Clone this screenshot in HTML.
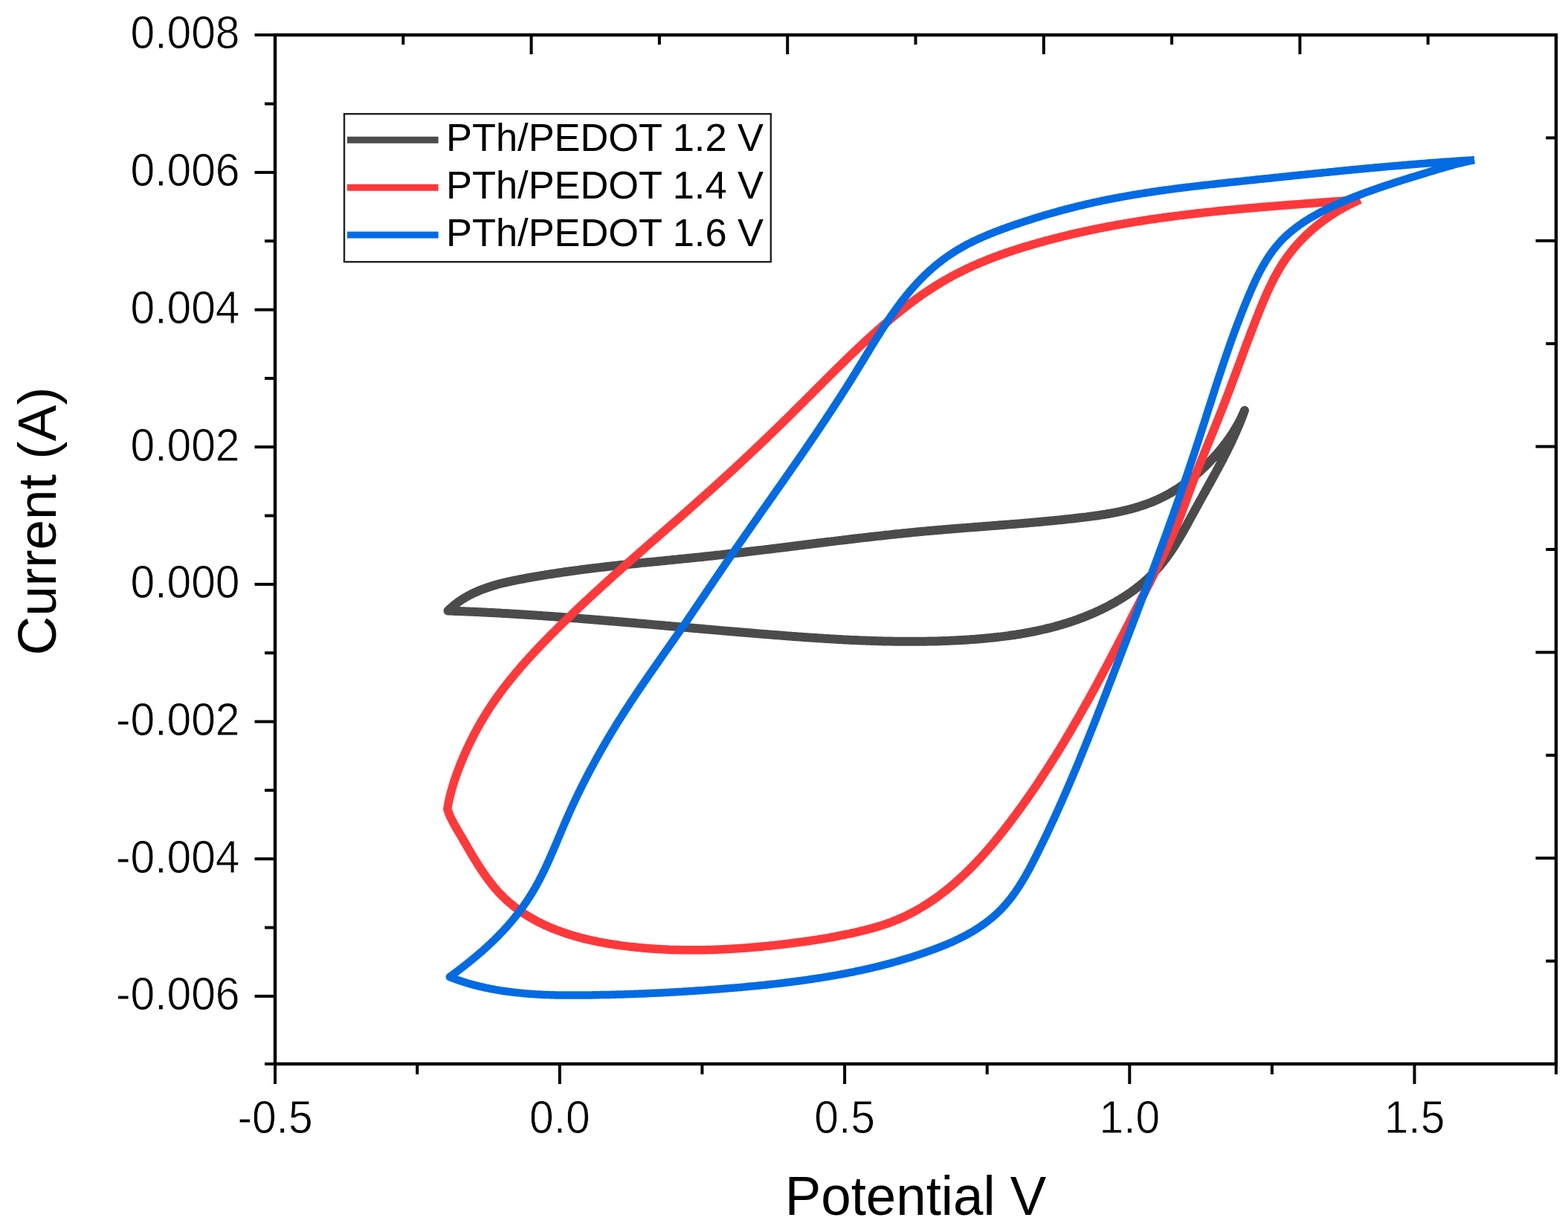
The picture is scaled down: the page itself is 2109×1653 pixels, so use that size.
<!DOCTYPE html>
<html><head><meta charset="utf-8"><title>Cyclic voltammetry</title>
<style>
html,body{margin:0;padding:0;background:#fff;}
body{width:2109px;height:1653px;overflow:hidden;}
svg{display:block;}
</style></head><body>
<svg width="2109" height="1653" viewBox="0 0 2109 1653"><rect x="0" y="0" width="2109" height="1653" fill="#fff"/><g fill="none" stroke-linejoin="round"><path d="M602.5,821.5L604.0,820.1L605.4,818.7L607.0,817.3L608.5,816.0L610.0,814.7L611.6,813.4L613.1,812.2L614.7,811.0L616.3,809.8L617.9,808.7L619.6,807.5L621.2,806.5L622.9,805.4L624.6,804.4L626.3,803.4L628.0,802.4L629.7,801.4L631.4,800.5L633.2,799.6L634.9,798.7L636.7,797.8L638.5,797.0L640.3,796.2L642.1,795.4L643.9,794.6L645.7,793.9L647.6,793.2L649.4,792.5L651.3,791.8L653.1,791.1L655.0,790.5L656.9,789.8L658.8,789.2L660.7,788.6L662.6,788.0L664.5,787.4L666.4,786.9L668.4,786.3L670.3,785.8L672.2,785.3L674.2,784.8L676.1,784.3L678.1,783.8L680.0,783.4L682.0,782.9L684.0,782.5L685.9,782.0L687.9,781.6L689.9,781.2L691.9,780.8L693.9,780.4L695.8,780.0L697.8,779.6L699.8,779.2L701.8,778.8L703.8,778.5L705.8,778.1L707.8,777.7L709.8,777.3L711.7,777.0L713.7,776.6L715.7,776.3L717.7,775.9L719.7,775.6L721.7,775.2L723.7,774.9L725.7,774.6L727.7,774.2L729.6,773.9L731.6,773.6L733.6,773.2L735.6,772.9L737.6,772.6L739.6,772.3L741.6,772.0L743.6,771.7L745.5,771.4L747.5,771.1L749.5,770.8L751.5,770.5L753.5,770.2L755.5,769.9L757.5,769.6L759.5,769.3L761.5,769.0L763.4,768.8L765.4,768.5L767.4,768.2L769.4,767.9L771.4,767.7L773.4,767.4L775.4,767.1L777.4,766.9L779.4,766.6L781.3,766.3L783.3,766.1L785.3,765.8L787.3,765.6L789.3,765.3L791.3,765.1L793.3,764.8L795.3,764.6L797.3,764.3L799.2,764.1L801.2,763.9L803.2,763.6L805.2,763.4L807.2,763.1L809.2,762.9L811.2,762.7L813.2,762.5L815.2,762.2L817.1,762.0L819.1,761.8L821.1,761.6L823.1,761.3L825.1,761.1L827.1,760.9L829.1,760.7L831.1,760.5L833.1,760.2L835.0,760.0L837.0,759.8L839.0,759.6L841.0,759.4L843.0,759.2L845.0,759.0L847.0,758.8L849.0,758.6L851.0,758.4L853.0,758.2L854.9,758.0L856.9,757.8L858.9,757.5L860.9,757.3L862.9,757.1L864.9,756.9L866.9,756.7L868.9,756.5L870.9,756.3L872.9,756.1L874.8,755.9L876.8,755.8L878.8,755.6L880.8,755.4L882.8,755.2L884.8,755.0L886.8,754.8L888.8,754.6L890.8,754.4L892.7,754.2L894.7,754.0L896.7,753.8L898.7,753.6L900.7,753.4L902.7,753.2L904.7,753.0L906.7,752.8L908.7,752.6L910.7,752.4L912.7,752.2L914.6,752.0L916.6,751.8L918.6,751.6L920.6,751.4L922.6,751.2L924.6,751.0L926.6,750.8L928.6,750.6L930.6,750.4L932.6,750.2L934.5,750.0L936.5,749.8L938.5,749.6L940.5,749.4L942.5,749.2L944.5,749.0L946.5,748.7L948.5,748.5L950.5,748.3L952.5,748.1L954.5,747.9L956.4,747.7L958.4,747.5L960.4,747.3L962.4,747.0L964.4,746.8L966.4,746.6L968.4,746.4L970.4,746.2L972.4,745.9L974.4,745.7L976.4,745.5L978.3,745.3L980.3,745.0L982.3,744.8L984.3,744.6L986.3,744.3L988.3,744.1L990.3,743.9L992.3,743.7L994.3,743.4L996.3,743.2L998.3,743.0L1000.3,742.7L1002.2,742.5L1004.2,742.2L1006.2,742.0L1008.2,741.8L1010.2,741.5L1012.2,741.3L1014.2,741.1L1016.2,740.8L1018.2,740.6L1020.2,740.3L1022.2,740.1L1024.2,739.9L1026.2,739.6L1028.1,739.4L1030.1,739.1L1032.1,738.9L1034.1,738.7L1036.1,738.4L1038.1,738.2L1040.1,737.9L1042.1,737.7L1044.1,737.4L1046.1,737.2L1048.1,736.9L1050.1,736.7L1052.0,736.5L1054.0,736.2L1056.0,736.0L1058.0,735.7L1060.0,735.5L1062.0,735.2L1064.0,735.0L1066.0,734.7L1068.0,734.5L1070.0,734.2L1072.0,734.0L1074.0,733.7L1076.0,733.5L1078.0,733.3L1079.9,733.0L1081.9,732.8L1083.9,732.5L1085.9,732.3L1087.9,732.0L1089.9,731.8L1091.9,731.5L1093.9,731.3L1095.9,731.0L1097.9,730.8L1099.9,730.5L1101.9,730.3L1103.9,730.1L1105.8,729.8L1107.8,729.6L1109.8,729.3L1111.8,729.1L1113.8,728.8L1115.8,728.6L1117.8,728.4L1119.8,728.1L1121.8,727.9L1123.8,727.6L1125.8,727.4L1127.8,727.1L1129.8,726.9L1131.8,726.7L1133.7,726.4L1135.7,726.2L1137.7,726.0L1139.7,725.7L1141.7,725.5L1143.7,725.2L1145.7,725.0L1147.7,724.8L1149.7,724.5L1151.7,724.3L1153.7,724.1L1155.7,723.8L1157.7,723.6L1159.7,723.4L1161.7,723.1L1163.6,722.9L1165.6,722.7L1167.6,722.5L1169.6,722.2L1171.6,722.0L1173.6,721.8L1175.6,721.6L1177.6,721.3L1179.6,721.1L1181.6,720.9L1183.6,720.7L1185.6,720.5L1187.6,720.2L1189.6,720.0L1191.5,719.8L1193.5,719.6L1195.5,719.4L1197.5,719.2L1199.5,718.9L1201.5,718.7L1203.5,718.5L1205.5,718.3L1207.5,718.1L1209.5,717.9L1211.5,717.7L1213.5,717.5L1215.5,717.3L1217.5,717.1L1219.5,716.9L1221.4,716.7L1223.4,716.5L1225.4,716.3L1227.4,716.1L1229.4,715.9L1231.4,715.7L1233.4,715.5L1235.4,715.3L1237.4,715.1L1239.4,715.0L1241.4,714.8L1243.4,714.6L1245.4,714.4L1247.4,714.2L1249.3,714.0L1251.3,713.9L1253.3,713.7L1255.3,713.5L1257.3,713.3L1259.3,713.2L1261.3,713.0L1263.3,712.8L1265.3,712.7L1267.3,712.5L1269.3,712.3L1271.3,712.1L1273.3,712.0L1275.3,711.8L1277.3,711.7L1279.2,711.5L1281.2,711.3L1283.2,711.2L1285.2,711.0L1287.2,710.8L1289.2,710.7L1291.2,710.5L1293.2,710.4L1295.2,710.2L1297.2,710.1L1299.2,709.9L1301.2,709.7L1303.2,709.6L1305.2,709.4L1307.2,709.3L1309.1,709.1L1311.1,709.0L1313.1,708.8L1315.1,708.7L1317.1,708.5L1319.1,708.4L1321.1,708.2L1323.1,708.0L1325.1,707.9L1327.1,707.7L1329.1,707.6L1331.1,707.4L1333.1,707.3L1335.1,707.1L1337.1,707.0L1339.1,706.8L1341.1,706.7L1343.1,706.5L1345.1,706.3L1347.0,706.2L1349.0,706.0L1351.0,705.9L1353.0,705.7L1355.0,705.6L1357.0,705.4L1359.0,705.2L1361.0,705.1L1363.0,704.9L1365.0,704.8L1367.0,704.6L1369.0,704.4L1371.0,704.3L1373.0,704.1L1375.0,703.9L1377.0,703.8L1379.0,703.6L1381.0,703.4L1383.0,703.3L1385.0,703.1L1387.0,702.9L1389.0,702.7L1391.0,702.6L1393.0,702.4L1395.0,702.2L1397.0,702.0L1399.0,701.9L1401.0,701.7L1403.0,701.5L1405.0,701.3L1407.0,701.1L1409.0,700.9L1411.0,700.7L1413.0,700.5L1415.0,700.4L1417.0,700.2L1419.0,700.0L1421.0,699.8L1423.0,699.6L1425.0,699.4L1427.0,699.2L1429.0,699.0L1431.0,698.7L1433.0,698.5L1435.0,698.3L1437.0,698.1L1439.0,697.9L1441.0,697.7L1443.0,697.5L1445.0,697.2L1447.0,697.0L1449.0,696.8L1451.0,696.5L1453.0,696.3L1455.0,696.1L1457.0,695.8L1459.0,695.6L1461.0,695.4L1463.0,695.1L1465.0,694.8L1467.0,694.6L1469.0,694.3L1471.0,694.1L1473.0,693.8L1475.0,693.5L1477.0,693.2L1479.0,692.9L1481.0,692.6L1483.0,692.3L1484.9,692.0L1486.9,691.7L1488.9,691.3L1490.9,691.0L1492.9,690.7L1494.8,690.3L1496.8,689.9L1498.8,689.6L1500.7,689.2L1502.7,688.8L1504.7,688.4L1506.6,688.0L1508.6,687.5L1510.5,687.1L1512.5,686.7L1514.4,686.2L1516.3,685.7L1518.3,685.2L1520.2,684.8L1522.1,684.2L1524.0,683.7L1525.9,683.2L1527.8,682.6L1529.7,682.1L1531.6,681.5L1533.5,680.9L1535.4,680.3L1537.3,679.7L1539.2,679.0L1541.0,678.4L1542.9,677.7L1544.7,677.0L1546.6,676.3L1548.4,675.6L1550.3,674.8L1552.1,674.1L1553.9,673.3L1555.7,672.5L1557.5,671.7L1559.3,670.8L1561.1,670.0L1562.9,669.1L1564.7,668.2L1566.5,667.3L1568.2,666.4L1570.0,665.4L1571.7,664.5L1573.5,663.5L1575.2,662.5L1576.9,661.5L1578.6,660.4L1580.3,659.4L1582.0,658.3L1583.7,657.3L1585.4,656.2L1587.0,655.0L1588.7,653.9L1590.4,652.8L1592.0,651.6L1593.6,650.4L1595.2,649.2L1596.9,648.0L1598.5,646.8L1600.1,645.6L1601.6,644.3L1603.2,643.1L1604.8,641.8L1606.3,640.5L1607.9,639.2L1609.4,637.9L1610.9,636.5L1612.5,635.2L1614.0,633.9L1615.5,632.5L1616.9,631.1L1618.4,629.7L1619.9,628.3L1621.3,626.9L1622.8,625.5L1624.2,624.1L1625.6,622.6L1627.0,621.2L1628.4,619.7L1629.8,618.2L1631.2,616.7L1632.5,615.2L1633.9,613.7L1635.2,612.2L1636.6,610.7L1637.9,609.2L1639.2,607.6L1640.5,606.1L1641.8,604.5L1643.0,603.0L1644.3,601.4L1645.5,599.8L1646.7,598.2L1648.0,596.6L1649.2,595.0L1650.4,593.4L1651.5,591.8L1652.7,590.2L1653.8,588.5L1655.0,586.9L1656.1,585.2L1657.2,583.6L1658.3,581.9L1659.3,580.2L1660.4,578.5L1661.4,576.8L1662.4,575.1L1663.4,573.4L1664.4,571.7L1665.4,569.9L1666.3,568.2L1667.3,566.4L1668.2,564.7L1669.1,562.9L1669.9,561.1L1670.8,559.3L1671.6,557.5L1672.4,555.7L1673.2,553.8L1674.0,552.0L1673.3,553.9L1672.6,555.8L1671.9,557.7L1671.2,559.5L1670.5,561.4L1669.8,563.3L1669.0,565.2L1668.3,567.0L1667.5,568.9L1666.8,570.7L1666.0,572.6L1665.2,574.4L1664.4,576.3L1663.6,578.1L1662.8,579.9L1662.0,581.8L1661.2,583.6L1660.4,585.4L1659.6,587.2L1658.7,589.0L1657.9,590.8L1657.0,592.7L1656.2,594.5L1655.3,596.3L1654.5,598.1L1653.6,599.9L1652.7,601.7L1651.8,603.4L1650.9,605.2L1650.1,607.0L1649.2,608.8L1648.3,610.6L1647.3,612.4L1646.4,614.1L1645.5,615.9L1644.6,617.7L1643.7,619.5L1642.7,621.2L1641.8,623.0L1640.9,624.8L1639.9,626.5L1639.0,628.3L1638.0,630.1L1637.1,631.8L1636.1,633.6L1635.2,635.3L1634.2,637.1L1633.3,638.9L1632.3,640.6L1631.4,642.4L1630.4,644.1L1629.4,645.9L1628.5,647.6L1627.5,649.4L1626.5,651.1L1625.5,652.9L1624.6,654.6L1623.6,656.4L1622.6,658.1L1621.6,659.9L1620.7,661.7L1619.7,663.4L1618.7,665.2L1617.7,666.9L1616.8,668.7L1615.8,670.4L1614.8,672.2L1613.8,673.9L1612.9,675.7L1611.9,677.5L1610.9,679.2L1610.0,681.0L1609.0,682.7L1608.0,684.5L1607.1,686.3L1606.1,688.0L1605.1,689.8L1604.2,691.6L1603.2,693.4L1602.2,695.1L1601.3,696.9L1600.3,698.7L1599.3,700.4L1598.4,702.2L1597.4,704.0L1596.4,705.7L1595.5,707.5L1594.5,709.2L1593.5,711.0L1592.5,712.7L1591.5,714.5L1590.5,716.2L1589.5,718.0L1588.5,719.7L1587.5,721.4L1586.5,723.1L1585.5,724.9L1584.4,726.6L1583.4,728.3L1582.3,730.0L1581.3,731.7L1580.2,733.4L1579.2,735.0L1578.1,736.7L1577.0,738.4L1575.9,740.0L1574.8,741.7L1573.7,743.3L1572.5,744.9L1571.4,746.6L1570.2,748.2L1569.1,749.8L1567.9,751.4L1566.7,752.9L1565.5,754.5L1564.3,756.1L1563.0,757.6L1561.8,759.1L1560.5,760.7L1559.2,762.2L1558.0,763.7L1556.6,765.2L1555.3,766.6L1554.0,768.1L1552.6,769.5L1551.3,770.9L1549.9,772.4L1548.5,773.8L1547.0,775.1L1545.6,776.5L1544.2,777.9L1542.7,779.2L1541.2,780.6L1539.7,781.9L1538.2,783.2L1536.7,784.5L1535.2,785.8L1533.6,787.0L1532.1,788.3L1530.5,789.5L1528.9,790.8L1527.3,792.0L1525.7,793.2L1524.1,794.4L1522.5,795.5L1520.9,796.7L1519.2,797.8L1517.6,799.0L1515.9,800.1L1514.2,801.2L1512.5,802.3L1510.8,803.4L1509.1,804.5L1507.4,805.5L1505.7,806.6L1504.0,807.6L1502.2,808.6L1500.5,809.7L1498.7,810.7L1497.0,811.6L1495.2,812.6L1493.4,813.6L1491.7,814.5L1489.9,815.5L1488.1,816.4L1486.3,817.3L1484.5,818.2L1482.7,819.1L1480.9,820.0L1479.1,820.8L1477.2,821.7L1475.4,822.5L1473.6,823.3L1471.8,824.2L1469.9,825.0L1468.1,825.8L1466.2,826.5L1464.4,827.3L1462.5,828.1L1460.7,828.8L1458.8,829.6L1457.0,830.3L1455.1,831.0L1453.2,831.7L1451.4,832.4L1449.5,833.1L1447.6,833.8L1445.7,834.4L1443.8,835.1L1441.9,835.7L1440.0,836.3L1438.1,837.0L1436.2,837.6L1434.3,838.2L1432.4,838.8L1430.5,839.4L1428.6,839.9L1426.7,840.5L1424.8,841.0L1422.9,841.6L1420.9,842.1L1419.0,842.6L1417.1,843.2L1415.1,843.7L1413.2,844.2L1411.3,844.7L1409.3,845.1L1407.4,845.6L1405.4,846.1L1403.5,846.5L1401.5,847.0L1399.6,847.4L1397.6,847.8L1395.7,848.3L1393.7,848.7L1391.8,849.1L1389.8,849.5L1387.8,849.9L1385.9,850.2L1383.9,850.6L1381.9,851.0L1380.0,851.3L1378.0,851.7L1376.0,852.0L1374.0,852.4L1372.1,852.7L1370.1,853.0L1368.1,853.3L1366.1,853.7L1364.1,854.0L1362.1,854.2L1360.1,854.5L1358.2,854.8L1356.2,855.1L1354.2,855.4L1352.2,855.6L1350.2,855.9L1348.2,856.1L1346.2,856.4L1344.2,856.6L1342.2,856.8L1340.2,857.1L1338.2,857.3L1336.2,857.5L1334.2,857.7L1332.2,857.9L1330.2,858.1L1328.2,858.3L1326.2,858.5L1324.2,858.7L1322.2,858.9L1320.2,859.0L1318.2,859.2L1316.2,859.4L1314.2,859.5L1312.1,859.7L1310.1,859.9L1308.1,860.0L1306.1,860.1L1304.1,860.3L1302.1,860.4L1300.1,860.5L1298.1,860.7L1296.1,860.8L1294.1,860.9L1292.1,861.0L1290.1,861.1L1288.1,861.2L1286.1,861.3L1284.1,861.4L1282.1,861.5L1280.1,861.6L1278.0,861.7L1276.0,861.8L1274.0,861.9L1272.0,862.0L1270.0,862.0L1268.0,862.1L1266.0,862.2L1264.0,862.2L1262.0,862.3L1260.0,862.4L1258.0,862.4L1256.0,862.5L1254.0,862.5L1252.0,862.6L1250.0,862.6L1248.0,862.6L1246.0,862.7L1244.0,862.7L1242.0,862.7L1240.0,862.8L1238.0,862.8L1236.0,862.8L1234.0,862.8L1232.0,862.8L1230.0,862.8L1228.0,862.8L1226.0,862.8L1223.9,862.8L1221.9,862.8L1219.9,862.8L1217.9,862.8L1215.9,862.8L1213.9,862.8L1211.9,862.8L1209.9,862.8L1207.9,862.7L1205.9,862.7L1203.9,862.7L1201.9,862.7L1199.9,862.6L1197.9,862.6L1195.9,862.6L1193.9,862.5L1191.9,862.5L1189.9,862.4L1187.9,862.4L1185.9,862.3L1183.9,862.3L1181.9,862.2L1179.9,862.2L1177.9,862.1L1175.9,862.0L1173.9,862.0L1171.9,861.9L1169.9,861.8L1167.9,861.8L1165.9,861.7L1163.9,861.6L1161.9,861.5L1159.9,861.5L1157.9,861.4L1155.9,861.3L1153.9,861.2L1151.9,861.1L1149.9,861.0L1147.9,860.9L1145.9,860.9L1143.9,860.8L1141.9,860.7L1139.9,860.6L1137.9,860.5L1135.9,860.4L1133.9,860.3L1131.9,860.1L1129.9,860.0L1127.9,859.9L1125.9,859.8L1123.9,859.7L1121.9,859.6L1119.9,859.5L1118.0,859.4L1116.0,859.2L1114.0,859.1L1112.0,859.0L1110.0,858.9L1108.0,858.7L1106.0,858.6L1104.0,858.5L1102.0,858.4L1100.0,858.2L1098.0,858.1L1096.0,858.0L1094.0,857.8L1092.0,857.7L1090.0,857.6L1088.0,857.4L1086.0,857.3L1084.0,857.2L1082.0,857.0L1080.0,856.9L1078.0,856.7L1076.0,856.6L1074.0,856.4L1072.0,856.3L1070.0,856.2L1068.0,856.0L1066.0,855.9L1064.0,855.7L1062.0,855.6L1060.0,855.4L1058.0,855.3L1056.0,855.1L1054.0,855.0L1052.0,854.8L1050.0,854.6L1048.0,854.5L1046.0,854.3L1044.0,854.2L1042.0,854.0L1040.1,853.9L1038.1,853.7L1036.1,853.6L1034.1,853.4L1032.1,853.2L1030.1,853.1L1028.1,852.9L1026.1,852.8L1024.1,852.6L1022.1,852.4L1020.1,852.3L1018.1,852.1L1016.1,851.9L1014.1,851.8L1012.1,851.6L1010.1,851.5L1008.1,851.3L1006.1,851.1L1004.1,851.0L1002.1,850.8L1000.1,850.6L998.1,850.5L996.1,850.3L994.1,850.1L992.1,850.0L990.1,849.8L988.1,849.6L986.1,849.5L984.1,849.3L982.1,849.1L980.2,848.9L978.2,848.8L976.2,848.6L974.2,848.4L972.2,848.3L970.2,848.1L968.2,847.9L966.2,847.7L964.2,847.6L962.2,847.4L960.2,847.2L958.2,847.1L956.2,846.9L954.2,846.7L952.2,846.5L950.2,846.4L948.2,846.2L946.2,846.0L944.2,845.8L942.2,845.7L940.2,845.5L938.2,845.3L936.2,845.2L934.2,845.0L932.2,844.8L930.2,844.6L928.2,844.5L926.2,844.3L924.3,844.1L922.3,843.9L920.3,843.8L918.3,843.6L916.3,843.4L914.3,843.2L912.3,843.1L910.3,842.9L908.3,842.7L906.3,842.5L904.3,842.4L902.3,842.2L900.3,842.0L898.3,841.8L896.3,841.7L894.3,841.5L892.3,841.3L890.3,841.1L888.3,841.0L886.3,840.8L884.3,840.6L882.3,840.4L880.3,840.3L878.3,840.1L876.3,839.9L874.3,839.7L872.3,839.6L870.3,839.4L868.4,839.2L866.4,839.0L864.4,838.9L862.4,838.7L860.4,838.5L858.4,838.4L856.4,838.2L854.4,838.0L852.4,837.8L850.4,837.7L848.4,837.5L846.4,837.3L844.4,837.2L842.4,837.0L840.4,836.8L838.4,836.7L836.4,836.5L834.4,836.3L832.4,836.2L830.4,836.0L828.4,835.8L826.4,835.7L824.4,835.5L822.4,835.3L820.4,835.2L818.4,835.0L816.4,834.8L814.4,834.7L812.4,834.5L810.4,834.3L808.4,834.2L806.4,834.0L804.4,833.8L802.5,833.7L800.5,833.5L798.5,833.4L796.5,833.2L794.5,833.0L792.5,832.9L790.5,832.7L788.5,832.6L786.5,832.4L784.5,832.3L782.5,832.1L780.5,831.9L778.5,831.8L776.5,831.6L774.5,831.5L772.5,831.3L770.5,831.2L768.5,831.0L766.5,830.9L764.5,830.7L762.5,830.6L760.5,830.4L758.5,830.3L756.5,830.1L754.5,830.0L752.5,829.8L750.5,829.7L748.5,829.5L746.5,829.4L744.5,829.2L742.5,829.1L740.5,829.0L738.5,828.8L736.5,828.7L734.5,828.5L732.5,828.4L730.5,828.3L728.5,828.1L726.5,828.0L724.5,827.9L722.5,827.7L720.5,827.6L718.5,827.5L716.5,827.3L714.5,827.2L712.5,827.1L710.5,826.9L708.5,826.8L706.5,826.7L704.5,826.5L702.5,826.4L700.5,826.3L698.5,826.2L696.5,826.0L694.5,825.9L692.5,825.8L690.5,825.7L688.5,825.6L686.5,825.4L684.5,825.3L682.5,825.2L680.5,825.1L678.5,825.0L676.5,824.9L674.5,824.8L672.5,824.6L670.5,824.5L668.5,824.4L666.5,824.3L664.5,824.2L662.5,824.1L660.5,824.0L658.5,823.9L656.5,823.8L654.5,823.7L652.5,823.6L650.5,823.5L648.5,823.4L646.5,823.3L644.5,823.2L642.5,823.1L640.5,823.0L638.5,822.9L636.5,822.8L634.5,822.8L632.5,822.7L630.5,822.6L628.5,822.5L626.5,822.4L624.5,822.3L622.5,822.2L620.5,822.2L618.5,822.1L616.5,822.0L614.5,821.9L612.5,821.9L610.5,821.8L608.5,821.7L606.5,821.6L604.5,821.6L602.5,821.5" stroke="#4b4b4b" stroke-width="12" stroke-linecap="round"/><path d="M1829.5,268.5L1827.5,268.6L1825.5,268.8L1823.5,268.9L1821.5,269.1L1819.5,269.2L1817.6,269.4L1815.6,269.5L1813.6,269.7L1811.6,269.8L1809.6,270.0L1807.6,270.1L1805.6,270.3L1803.6,270.4L1801.6,270.6L1799.6,270.7L1797.6,270.9L1795.6,271.0L1793.6,271.2L1791.6,271.3L1789.6,271.5L1787.7,271.6L1785.7,271.7L1783.7,271.9L1781.7,272.0L1779.7,272.2L1777.7,272.3L1775.7,272.5L1773.7,272.6L1771.7,272.8L1769.7,272.9L1767.7,273.1L1765.7,273.2L1763.7,273.4L1761.7,273.5L1759.7,273.7L1757.7,273.8L1755.7,274.0L1753.7,274.1L1751.7,274.3L1749.7,274.4L1747.7,274.6L1745.7,274.7L1743.7,274.9L1741.7,275.0L1739.7,275.2L1737.7,275.3L1735.7,275.5L1733.7,275.6L1731.7,275.8L1729.7,275.9L1727.7,276.1L1725.7,276.2L1723.7,276.4L1721.7,276.6L1719.8,276.7L1717.8,276.9L1715.8,277.0L1713.8,277.2L1711.8,277.4L1709.8,277.5L1707.8,277.7L1705.8,277.8L1703.8,278.0L1701.8,278.2L1699.8,278.3L1697.8,278.5L1695.8,278.7L1693.8,278.8L1691.8,279.0L1689.8,279.2L1687.8,279.4L1685.8,279.5L1683.8,279.7L1681.8,279.9L1679.8,280.0L1677.8,280.2L1675.8,280.4L1673.8,280.6L1671.8,280.8L1669.8,280.9L1667.8,281.1L1665.8,281.3L1663.8,281.5L1661.8,281.7L1659.8,281.9L1657.8,282.1L1655.8,282.2L1653.8,282.4L1651.8,282.6L1649.8,282.8L1647.8,283.0L1645.8,283.2L1643.9,283.4L1641.9,283.6L1639.9,283.8L1637.9,284.0L1635.9,284.2L1633.9,284.4L1631.9,284.6L1629.9,284.9L1627.9,285.1L1625.9,285.3L1623.9,285.5L1621.9,285.7L1619.9,285.9L1617.9,286.1L1615.9,286.4L1613.9,286.6L1612.0,286.8L1610.0,287.0L1608.0,287.3L1606.0,287.5L1604.0,287.7L1602.0,288.0L1600.0,288.2L1598.0,288.4L1596.0,288.7L1594.0,288.9L1592.1,289.2L1590.1,289.4L1588.1,289.6L1586.1,289.9L1584.1,290.1L1582.1,290.4L1580.1,290.7L1578.1,290.9L1576.2,291.2L1574.2,291.4L1572.2,291.7L1570.2,292.0L1568.2,292.2L1566.2,292.5L1564.2,292.8L1562.3,293.1L1560.3,293.3L1558.3,293.6L1556.3,293.9L1554.3,294.2L1552.4,294.5L1550.4,294.8L1548.4,295.0L1546.4,295.3L1544.4,295.6L1542.5,295.9L1540.5,296.2L1538.5,296.5L1536.5,296.8L1534.5,297.2L1532.6,297.5L1530.6,297.8L1528.6,298.1L1526.6,298.4L1524.7,298.7L1522.7,299.1L1520.7,299.4L1518.7,299.7L1516.8,300.1L1514.8,300.4L1512.8,300.7L1510.8,301.1L1508.9,301.4L1506.9,301.8L1504.9,302.1L1503.0,302.5L1501.0,302.8L1499.0,303.2L1497.1,303.5L1495.1,303.9L1493.1,304.3L1491.2,304.6L1489.2,305.0L1487.2,305.4L1485.3,305.8L1483.3,306.2L1481.3,306.5L1479.4,306.9L1477.4,307.3L1475.5,307.7L1473.5,308.1L1471.5,308.5L1469.6,308.9L1467.6,309.3L1465.7,309.7L1463.7,310.2L1461.7,310.6L1459.8,311.0L1457.8,311.4L1455.9,311.9L1453.9,312.3L1452.0,312.7L1450.0,313.2L1448.1,313.6L1446.1,314.0L1444.2,314.5L1442.2,314.9L1440.3,315.4L1438.3,315.9L1436.4,316.3L1434.4,316.8L1432.5,317.3L1430.5,317.7L1428.6,318.2L1426.6,318.7L1424.7,319.2L1422.8,319.7L1420.8,320.2L1418.9,320.7L1416.9,321.2L1415.0,321.7L1413.0,322.2L1411.1,322.7L1409.2,323.2L1407.2,323.7L1405.3,324.2L1403.4,324.8L1401.4,325.3L1399.5,325.8L1397.6,326.4L1395.6,326.9L1393.7,327.5L1391.8,328.0L1389.8,328.6L1387.9,329.1L1386.0,329.7L1384.1,330.3L1382.1,330.8L1380.2,331.4L1378.3,332.0L1376.4,332.6L1374.5,333.2L1372.5,333.8L1370.6,334.4L1368.7,335.0L1366.8,335.6L1364.9,336.2L1363.0,336.8L1361.1,337.5L1359.2,338.1L1357.3,338.7L1355.4,339.4L1353.5,340.0L1351.6,340.7L1349.7,341.4L1347.8,342.0L1345.9,342.7L1344.0,343.4L1342.2,344.1L1340.3,344.8L1338.4,345.5L1336.5,346.2L1334.7,346.9L1332.8,347.6L1330.9,348.3L1329.1,349.1L1327.2,349.8L1325.4,350.6L1323.5,351.3L1321.7,352.1L1319.8,352.8L1318.0,353.6L1316.1,354.4L1314.3,355.2L1312.5,356.0L1310.6,356.8L1308.8,357.6L1307.0,358.4L1305.2,359.3L1303.4,360.1L1301.6,360.9L1299.7,361.8L1297.9,362.7L1296.1,363.5L1294.4,364.4L1292.6,365.3L1290.8,366.2L1289.0,367.1L1287.2,368.0L1285.5,368.9L1283.7,369.8L1281.9,370.8L1280.2,371.7L1278.4,372.7L1276.7,373.7L1274.9,374.6L1273.2,375.6L1271.5,376.6L1269.7,377.6L1268.0,378.6L1266.3,379.6L1264.6,380.7L1262.9,381.7L1261.2,382.7L1259.5,383.8L1257.8,384.8L1256.1,385.9L1254.4,387.0L1252.7,388.1L1251.1,389.2L1249.4,390.3L1247.7,391.4L1246.1,392.5L1244.4,393.6L1242.7,394.7L1241.1,395.9L1239.4,397.0L1237.8,398.2L1236.2,399.3L1234.5,400.5L1232.9,401.7L1231.3,402.9L1229.7,404.0L1228.1,405.2L1226.4,406.4L1224.8,407.6L1223.2,408.8L1221.6,410.1L1220.0,411.3L1218.4,412.5L1216.9,413.7L1215.3,415.0L1213.7,416.2L1212.1,417.5L1210.5,418.7L1209.0,420.0L1207.4,421.2L1205.8,422.5L1204.3,423.8L1202.7,425.0L1201.2,426.3L1199.6,427.6L1198.1,428.9L1196.6,430.2L1195.0,431.5L1193.5,432.8L1192.0,434.1L1190.4,435.4L1188.9,436.7L1187.4,438.0L1185.9,439.4L1184.4,440.7L1182.8,442.0L1181.3,443.4L1179.8,444.7L1178.3,446.0L1176.8,447.4L1175.3,448.7L1173.8,450.0L1172.4,451.4L1170.9,452.7L1169.4,454.1L1167.9,455.4L1166.4,456.8L1164.9,458.2L1163.5,459.5L1162.0,460.9L1160.5,462.2L1159.1,463.6L1157.6,465.0L1156.1,466.3L1154.7,467.7L1153.2,469.1L1151.8,470.5L1150.3,471.8L1148.9,473.2L1147.4,474.6L1146.0,476.0L1144.5,477.4L1143.1,478.7L1141.7,480.1L1140.2,481.5L1138.8,482.9L1137.3,484.3L1135.9,485.7L1134.5,487.1L1133.1,488.5L1131.6,489.9L1130.2,491.3L1128.8,492.7L1127.3,494.1L1125.9,495.5L1124.5,496.9L1123.1,498.3L1121.7,499.7L1120.2,501.1L1118.8,502.5L1117.4,503.9L1116.0,505.3L1114.6,506.7L1113.2,508.1L1111.7,509.5L1110.3,510.9L1108.9,512.3L1107.5,513.7L1106.1,515.2L1104.7,516.6L1103.3,518.0L1101.9,519.4L1100.4,520.8L1099.0,522.2L1097.6,523.6L1096.2,525.0L1094.8,526.4L1093.4,527.9L1092.0,529.3L1090.6,530.7L1089.2,532.1L1087.7,533.5L1086.3,534.9L1084.9,536.3L1083.5,537.7L1082.1,539.2L1080.7,540.6L1079.3,542.0L1077.9,543.4L1076.4,544.8L1075.0,546.2L1073.6,547.6L1072.2,549.0L1070.8,550.4L1069.3,551.8L1067.9,553.2L1066.5,554.6L1065.1,556.1L1063.7,557.5L1062.2,558.9L1060.8,560.3L1059.4,561.7L1058.0,563.1L1056.5,564.5L1055.1,565.9L1053.7,567.3L1052.2,568.7L1050.8,570.1L1049.4,571.5L1047.9,572.9L1046.5,574.3L1045.1,575.7L1043.6,577.1L1042.2,578.4L1040.8,579.8L1039.3,581.2L1037.9,582.6L1036.4,584.0L1035.0,585.4L1033.6,586.8L1032.1,588.2L1030.7,589.6L1029.2,591.0L1027.8,592.3L1026.3,593.7L1024.9,595.1L1023.4,596.5L1022.0,597.9L1020.5,599.3L1019.1,600.6L1017.6,602.0L1016.2,603.4L1014.7,604.8L1013.3,606.2L1011.8,607.5L1010.3,608.9L1008.9,610.3L1007.4,611.7L1006.0,613.0L1004.5,614.4L1003.0,615.8L1001.6,617.2L1000.1,618.5L998.7,619.9L997.2,621.3L995.7,622.6L994.3,624.0L992.8,625.4L991.3,626.7L989.8,628.1L988.4,629.5L986.9,630.8L985.4,632.2L984.0,633.5L982.5,634.9L981.0,636.3L979.5,637.6L978.0,639.0L976.6,640.3L975.1,641.7L973.6,643.0L972.1,644.4L970.6,645.7L969.2,647.1L967.7,648.4L966.2,649.8L964.7,651.1L963.2,652.5L961.7,653.8L960.2,655.2L958.8,656.5L957.3,657.8L955.8,659.2L954.3,660.5L952.8,661.9L951.3,663.2L949.8,664.5L948.3,665.9L946.8,667.2L945.3,668.5L943.8,669.9L942.3,671.2L940.8,672.5L939.3,673.9L937.8,675.2L936.3,676.5L934.8,677.9L933.3,679.2L931.8,680.5L930.3,681.8L928.8,683.2L927.3,684.5L925.8,685.8L924.3,687.2L922.8,688.5L921.3,689.8L919.8,691.1L918.3,692.4L916.8,693.8L915.3,695.1L913.8,696.4L912.3,697.7L910.8,699.1L909.3,700.4L907.8,701.7L906.2,703.0L904.7,704.3L903.2,705.7L901.7,707.0L900.2,708.3L898.7,709.6L897.2,710.9L895.7,712.3L894.2,713.6L892.7,714.9L891.2,716.2L889.7,717.5L888.2,718.9L886.6,720.2L885.1,721.5L883.6,722.8L882.1,724.1L880.6,725.5L879.1,726.8L877.6,728.1L876.1,729.4L874.6,730.7L873.1,732.1L871.6,733.4L870.1,734.7L868.6,736.0L867.1,737.3L865.6,738.7L864.0,740.0L862.5,741.3L861.0,742.6L859.5,744.0L858.0,745.3L856.5,746.6L855.0,747.9L853.5,749.3L852.0,750.6L850.5,751.9L849.0,753.2L847.5,754.6L846.0,755.9L844.5,757.2L843.0,758.5L841.5,759.9L840.0,761.2L838.5,762.5L837.0,763.9L835.5,765.2L834.1,766.5L832.6,767.9L831.1,769.2L829.6,770.5L828.1,771.9L826.6,773.2L825.1,774.5L823.6,775.9L822.1,777.2L820.6,778.6L819.2,779.9L817.7,781.2L816.2,782.6L814.7,783.9L813.2,785.3L811.7,786.6L810.3,788.0L808.8,789.3L807.3,790.7L805.8,792.0L804.4,793.4L802.9,794.7L801.4,796.1L799.9,797.4L798.5,798.8L797.0,800.1L795.5,801.5L794.0,802.9L792.6,804.2L791.1,805.6L789.7,806.9L788.2,808.3L786.7,809.7L785.3,811.0L783.8,812.4L782.4,813.8L780.9,815.2L779.4,816.5L778.0,817.9L776.5,819.3L775.1,820.7L773.6,822.0L772.2,823.4L770.7,824.8L769.3,826.2L767.9,827.6L766.4,829.0L765.0,830.3L763.5,831.7L762.1,833.1L760.7,834.5L759.2,835.9L757.8,837.3L756.4,838.7L754.9,840.1L753.5,841.5L752.1,842.9L750.7,844.3L749.2,845.7L747.8,847.2L746.4,848.6L745.0,850.0L743.6,851.4L742.2,852.8L740.7,854.2L739.3,855.7L737.9,857.1L736.5,858.5L735.1,860.0L733.7,861.4L732.3,862.8L730.9,864.3L729.5,865.7L728.2,867.1L726.8,868.6L725.4,870.0L724.0,871.5L722.6,872.9L721.3,874.4L719.9,875.9L718.5,877.3L717.2,878.8L715.8,880.2L714.4,881.7L713.1,883.2L711.7,884.7L710.4,886.2L709.1,887.6L707.7,889.1L706.4,890.6L705.1,892.1L703.7,893.6L702.4,895.1L701.1,896.6L699.8,898.1L698.5,899.7L697.2,901.2L695.9,902.7L694.6,904.2L693.3,905.8L692.0,907.3L690.8,908.8L689.5,910.4L688.2,911.9L687.0,913.5L685.7,915.0L684.5,916.6L683.2,918.2L682.0,919.7L680.8,921.3L679.5,922.9L678.3,924.5L677.1,926.0L675.9,927.6L674.7,929.2L673.5,930.8L672.3,932.5L671.1,934.1L670.0,935.7L668.8,937.3L667.7,938.9L666.5,940.6L665.4,942.2L664.2,943.9L663.1,945.5L662.0,947.2L660.8,948.8L659.7,950.5L658.6,952.2L657.5,953.9L656.5,955.6L655.4,957.2L654.3,958.9L653.3,960.6L652.2,962.4L651.1,964.1L650.1,965.8L649.1,967.5L648.1,969.2L647.0,971.0L646.0,972.7L645.0,974.5L644.0,976.2L643.1,978.0L642.1,979.7L641.1,981.5L640.2,983.3L639.2,985.0L638.3,986.8L637.3,988.6L636.4,990.4L635.5,992.2L634.6,994.0L633.7,995.8L632.8,997.6L631.9,999.4L631.0,1001.2L630.2,1003.0L629.3,1004.8L628.5,1006.6L627.6,1008.5L626.8,1010.3L626.0,1012.1L625.1,1014.0L624.3,1015.8L623.5,1017.6L622.8,1019.5L622.0,1021.3L621.2,1023.2L620.4,1025.0L619.7,1026.9L618.9,1028.8L618.2,1030.6L617.5,1032.5L616.8,1034.4L616.1,1036.2L615.4,1038.1L614.7,1040.0L614.0,1041.9L613.3,1043.8L612.7,1045.7L612.0,1047.6L611.4,1049.4L610.8,1051.3L610.2,1053.2L609.6,1055.1L609.0,1057.1L608.4,1059.0L607.9,1060.9L607.4,1062.8L606.8,1064.7L606.3,1066.6L605.8,1068.6L605.3,1070.5L604.9,1072.4L604.4,1074.4L604.0,1076.3L603.6,1078.2L603.2,1080.2L602.8,1082.1L602.5,1084.1L602.1,1086.0L601.8,1088.0L602.4,1089.9L603.0,1091.7L603.7,1093.6L604.4,1095.4L605.1,1097.1L605.9,1098.9L606.8,1100.7L607.6,1102.4L608.5,1104.1L609.4,1105.8L610.3,1107.6L611.3,1109.3L612.3,1111.0L613.2,1112.7L614.2,1114.4L615.2,1116.1L616.2,1117.8L617.2,1119.5L618.2,1121.2L619.2,1123.0L620.3,1124.7L621.3,1126.4L622.3,1128.2L623.3,1129.9L624.3,1131.7L625.3,1133.5L626.3,1135.2L627.4,1137.0L628.4,1138.8L629.4,1140.5L630.4,1142.3L631.5,1144.1L632.5,1145.8L633.6,1147.6L634.6,1149.4L635.7,1151.1L636.7,1152.9L637.8,1154.7L638.9,1156.4L640.0,1158.2L641.0,1159.9L642.1,1161.7L643.2,1163.4L644.4,1165.2L645.5,1166.9L646.6,1168.6L647.7,1170.3L648.9,1172.0L650.0,1173.7L651.2,1175.4L652.4,1177.1L653.5,1178.7L654.7,1180.4L655.9,1182.0L657.1,1183.7L658.4,1185.3L659.6,1186.9L660.8,1188.5L662.1,1190.1L663.4,1191.6L664.6,1193.2L665.9,1194.7L667.2,1196.2L668.6,1197.7L669.9,1199.2L671.2,1200.7L672.6,1202.1L674.0,1203.5L675.4,1204.9L676.8,1206.3L678.2,1207.7L679.6,1209.1L681.1,1210.4L682.5,1211.7L684.0,1213.0L685.5,1214.3L687.0,1215.6L688.5,1216.8L690.0,1218.0L691.5,1219.3L693.1,1220.4L694.6,1221.6L696.2,1222.8L697.8,1223.9L699.4,1225.1L701.0,1226.2L702.6,1227.3L704.2,1228.4L705.8,1229.4L707.5,1230.5L709.1,1231.5L710.8,1232.5L712.5,1233.5L714.2,1234.5L715.9,1235.5L717.6,1236.5L719.3,1237.4L721.0,1238.3L722.7,1239.3L724.5,1240.2L726.2,1241.0L728.0,1241.9L729.8,1242.8L731.5,1243.6L733.3,1244.5L735.1,1245.3L736.9,1246.1L738.7,1246.9L740.6,1247.6L742.4,1248.4L744.2,1249.2L746.1,1249.9L747.9,1250.6L749.8,1251.3L751.6,1252.0L753.5,1252.7L755.4,1253.4L757.3,1254.0L759.2,1254.7L761.0,1255.3L762.9,1256.0L764.9,1256.6L766.8,1257.2L768.7,1257.8L770.6,1258.3L772.5,1258.9L774.5,1259.5L776.4,1260.0L778.4,1260.5L780.3,1261.1L782.3,1261.6L784.2,1262.1L786.2,1262.6L788.2,1263.1L790.1,1263.5L792.1,1264.0L794.1,1264.4L796.1,1264.9L798.0,1265.3L800.0,1265.7L802.0,1266.2L804.0,1266.6L806.0,1267.0L808.0,1267.3L810.0,1267.7L812.0,1268.1L814.0,1268.4L816.0,1268.8L818.0,1269.1L820.0,1269.5L822.1,1269.8L824.1,1270.1L826.1,1270.4L828.1,1270.7L830.1,1271.0L832.1,1271.3L834.2,1271.6L836.2,1271.9L838.2,1272.1L840.2,1272.4L842.2,1272.6L844.3,1272.9L846.3,1273.1L848.3,1273.4L850.3,1273.6L852.3,1273.8L854.3,1274.0L856.4,1274.2L858.4,1274.4L860.4,1274.6L862.4,1274.8L864.4,1275.0L866.4,1275.2L868.4,1275.3L870.4,1275.5L872.5,1275.7L874.5,1275.8L876.5,1276.0L878.5,1276.1L880.5,1276.2L882.5,1276.4L884.5,1276.5L886.5,1276.6L888.5,1276.7L890.5,1276.8L892.5,1276.9L894.5,1277.0L896.5,1277.1L898.5,1277.2L900.5,1277.3L902.5,1277.4L904.5,1277.4L906.5,1277.5L908.5,1277.5L910.5,1277.6L912.5,1277.6L914.5,1277.7L916.5,1277.7L918.5,1277.8L920.5,1277.8L922.5,1277.8L924.5,1277.8L926.5,1277.8L928.5,1277.8L930.5,1277.8L932.5,1277.8L934.5,1277.8L936.5,1277.8L938.5,1277.8L940.5,1277.8L942.5,1277.8L944.5,1277.7L946.4,1277.7L948.4,1277.7L950.4,1277.6L952.4,1277.6L954.4,1277.5L956.4,1277.5L958.4,1277.4L960.4,1277.3L962.4,1277.3L964.3,1277.2L966.3,1277.1L968.3,1277.0L970.3,1276.9L972.3,1276.8L974.3,1276.8L976.3,1276.7L978.3,1276.5L980.2,1276.4L982.2,1276.3L984.2,1276.2L986.2,1276.1L988.2,1276.0L990.2,1275.8L992.1,1275.7L994.1,1275.6L996.1,1275.4L998.1,1275.3L1000.1,1275.2L1002.1,1275.0L1004.1,1274.9L1006.0,1274.7L1008.0,1274.5L1010.0,1274.4L1012.0,1274.2L1014.0,1274.0L1015.9,1273.9L1017.9,1273.7L1019.9,1273.5L1021.9,1273.3L1023.9,1273.2L1025.9,1273.0L1027.8,1272.8L1029.8,1272.6L1031.8,1272.4L1033.8,1272.2L1035.8,1272.0L1037.7,1271.8L1039.7,1271.6L1041.7,1271.4L1043.7,1271.1L1045.7,1270.9L1047.7,1270.7L1049.6,1270.5L1051.6,1270.3L1053.6,1270.0L1055.6,1269.8L1057.6,1269.6L1059.5,1269.3L1061.5,1269.1L1063.5,1268.8L1065.5,1268.6L1067.5,1268.3L1069.5,1268.1L1071.4,1267.8L1073.4,1267.6L1075.4,1267.3L1077.4,1267.0L1079.4,1266.8L1081.3,1266.5L1083.3,1266.2L1085.3,1265.9L1087.3,1265.7L1089.3,1265.4L1091.3,1265.1L1093.2,1264.8L1095.2,1264.5L1097.2,1264.2L1099.2,1263.9L1101.2,1263.5L1103.2,1263.2L1105.1,1262.9L1107.1,1262.6L1109.1,1262.2L1111.1,1261.9L1113.1,1261.6L1115.1,1261.2L1117.0,1260.9L1119.0,1260.5L1121.0,1260.1L1123.0,1259.8L1125.0,1259.4L1126.9,1259.0L1128.9,1258.6L1130.9,1258.2L1132.9,1257.8L1134.9,1257.4L1136.9,1257.0L1138.8,1256.6L1140.8,1256.2L1142.8,1255.8L1144.8,1255.4L1146.8,1254.9L1148.8,1254.5L1150.8,1254.0L1152.7,1253.6L1154.7,1253.1L1156.7,1252.6L1158.7,1252.2L1160.7,1251.7L1162.6,1251.2L1164.6,1250.7L1166.6,1250.2L1168.6,1249.7L1170.5,1249.1L1172.5,1248.6L1174.5,1248.1L1176.4,1247.5L1178.4,1246.9L1180.3,1246.4L1182.3,1245.8L1184.2,1245.2L1186.1,1244.6L1188.1,1243.9L1190.0,1243.3L1191.9,1242.6L1193.8,1242.0L1195.7,1241.3L1197.6,1240.6L1199.5,1239.9L1201.3,1239.2L1203.2,1238.4L1205.1,1237.7L1206.9,1236.9L1208.7,1236.2L1210.6,1235.4L1212.4,1234.6L1214.2,1233.7L1216.0,1232.9L1217.8,1232.1L1219.6,1231.2L1221.4,1230.3L1223.2,1229.4L1224.9,1228.5L1226.7,1227.6L1228.4,1226.7L1230.2,1225.8L1231.9,1224.8L1233.6,1223.9L1235.3,1222.9L1237.0,1221.9L1238.7,1220.9L1240.4,1219.9L1242.1,1218.8L1243.8,1217.8L1245.5,1216.8L1247.1,1215.7L1248.8,1214.6L1250.4,1213.5L1252.1,1212.4L1253.7,1211.3L1255.3,1210.2L1257.0,1209.1L1258.6,1208.0L1260.2,1206.8L1261.8,1205.6L1263.4,1204.5L1265.0,1203.3L1266.5,1202.1L1268.1,1200.9L1269.7,1199.7L1271.2,1198.5L1272.8,1197.2L1274.3,1196.0L1275.9,1194.7L1277.4,1193.5L1278.9,1192.2L1280.4,1190.9L1281.9,1189.7L1283.4,1188.4L1284.9,1187.1L1286.4,1185.7L1287.9,1184.4L1289.4,1183.1L1290.9,1181.7L1292.3,1180.4L1293.8,1179.0L1295.3,1177.7L1296.7,1176.3L1298.2,1174.9L1299.6,1173.5L1301.0,1172.1L1302.4,1170.7L1303.9,1169.3L1305.3,1167.9L1306.7,1166.5L1308.1,1165.1L1309.5,1163.6L1310.9,1162.2L1312.3,1160.7L1313.7,1159.3L1315.0,1157.8L1316.4,1156.4L1317.8,1154.9L1319.1,1153.4L1320.5,1151.9L1321.8,1150.4L1323.2,1148.9L1324.5,1147.4L1325.9,1145.9L1327.2,1144.4L1328.5,1142.9L1329.8,1141.3L1331.1,1139.8L1332.5,1138.3L1333.8,1136.7L1335.1,1135.2L1336.4,1133.7L1337.7,1132.1L1338.9,1130.5L1340.2,1129.0L1341.5,1127.4L1342.8,1125.8L1344.0,1124.3L1345.3,1122.7L1346.6,1121.1L1347.8,1119.5L1349.1,1118.0L1350.3,1116.4L1351.6,1114.8L1352.8,1113.2L1354.1,1111.6L1355.3,1110.0L1356.5,1108.4L1357.7,1106.8L1359.0,1105.2L1360.2,1103.6L1361.4,1101.9L1362.6,1100.3L1363.8,1098.7L1365.0,1097.1L1366.2,1095.5L1367.4,1093.9L1368.6,1092.2L1369.8,1090.6L1371.0,1089.0L1372.2,1087.4L1373.4,1085.7L1374.5,1084.1L1375.7,1082.5L1376.9,1080.8L1378.0,1079.2L1379.2,1077.5L1380.4,1075.9L1381.5,1074.3L1382.7,1072.6L1383.8,1071.0L1385.0,1069.3L1386.1,1067.7L1387.3,1066.0L1388.4,1064.4L1389.5,1062.7L1390.7,1061.1L1391.8,1059.4L1392.9,1057.7L1394.1,1056.1L1395.2,1054.4L1396.3,1052.8L1397.4,1051.1L1398.5,1049.4L1399.6,1047.8L1400.7,1046.1L1401.8,1044.4L1402.9,1042.7L1404.0,1041.1L1405.1,1039.4L1406.2,1037.7L1407.3,1036.0L1408.4,1034.4L1409.5,1032.7L1410.5,1031.0L1411.6,1029.3L1412.7,1027.6L1413.8,1025.9L1414.8,1024.2L1415.9,1022.6L1417.0,1020.9L1418.0,1019.2L1419.1,1017.5L1420.2,1015.8L1421.2,1014.1L1422.3,1012.4L1423.3,1010.7L1424.4,1009.0L1425.4,1007.3L1426.4,1005.6L1427.5,1003.9L1428.5,1002.2L1429.6,1000.5L1430.6,998.8L1431.6,997.0L1432.7,995.3L1433.7,993.6L1434.7,991.9L1435.7,990.2L1436.7,988.5L1437.8,986.8L1438.8,985.0L1439.8,983.3L1440.8,981.6L1441.8,979.9L1442.8,978.1L1443.8,976.4L1444.8,974.7L1445.8,973.0L1446.8,971.2L1447.8,969.5L1448.8,967.8L1449.8,966.1L1450.8,964.3L1451.8,962.6L1452.8,960.9L1453.8,959.1L1454.8,957.4L1455.7,955.6L1456.7,953.9L1457.7,952.2L1458.7,950.4L1459.7,948.7L1460.6,946.9L1461.6,945.2L1462.6,943.5L1463.6,941.7L1464.5,940.0L1465.5,938.2L1466.5,936.5L1467.4,934.7L1468.4,933.0L1469.3,931.2L1470.3,929.5L1471.3,927.7L1472.2,926.0L1473.2,924.2L1474.1,922.5L1475.1,920.7L1476.0,919.0L1477.0,917.2L1477.9,915.4L1478.9,913.7L1479.8,911.9L1480.8,910.2L1481.7,908.4L1482.7,906.6L1483.6,904.9L1484.5,903.1L1485.5,901.3L1486.4,899.6L1487.4,897.8L1488.3,896.1L1489.2,894.3L1490.2,892.5L1491.1,890.8L1492.0,889.0L1493.0,887.2L1493.9,885.4L1494.8,883.7L1495.8,881.9L1496.7,880.1L1497.6,878.4L1498.5,876.6L1499.5,874.8L1500.4,873.0L1501.3,871.3L1502.2,869.5L1503.2,867.7L1504.1,865.9L1505.0,864.2L1505.9,862.4L1506.8,860.6L1507.8,858.8L1508.7,857.1L1509.6,855.3L1510.5,853.5L1511.4,851.7L1512.4,849.9L1513.3,848.2L1514.2,846.4L1515.1,844.6L1516.0,842.8L1516.9,841.0L1517.9,839.3L1518.8,837.5L1519.7,835.7L1520.6,833.9L1521.5,832.1L1522.4,830.3L1523.3,828.6L1524.3,826.8L1525.2,825.0L1526.1,823.2L1527.0,821.4L1527.9,819.6L1528.8,817.8L1529.7,816.1L1530.7,814.3L1531.6,812.5L1532.5,810.7L1533.4,808.9L1534.3,807.1L1535.2,805.3L1536.1,803.6L1537.0,801.8L1538.0,800.0L1538.9,798.2L1539.8,796.4L1540.7,794.6L1541.6,792.8L1542.5,791.0L1543.4,789.3L1544.3,787.5L1545.3,785.7L1546.2,783.9L1547.1,782.1L1548.0,780.3L1548.9,778.5L1549.8,776.7L1550.7,774.9L1551.6,773.1L1552.5,771.3L1553.4,769.5L1554.3,767.7L1555.2,765.9L1556.1,764.2L1557.0,762.4L1557.9,760.6L1558.8,758.8L1559.6,757.0L1560.5,755.1L1561.4,753.3L1562.3,751.5L1563.1,749.7L1564.0,747.9L1564.9,746.1L1565.7,744.3L1566.6,742.5L1567.5,740.7L1568.3,738.9L1569.2,737.1L1570.0,735.2L1570.8,733.4L1571.7,731.6L1572.5,729.8L1573.3,727.9L1574.1,726.1L1575.0,724.3L1575.8,722.5L1576.6,720.6L1577.4,718.8L1578.2,717.0L1579.0,715.1L1579.8,713.3L1580.5,711.4L1581.3,709.6L1582.1,707.8L1582.8,705.9L1583.6,704.1L1584.3,702.2L1585.1,700.4L1585.8,698.5L1586.6,696.6L1587.3,694.8L1588.0,692.9L1588.7,691.0L1589.4,689.2L1590.1,687.3L1590.8,685.4L1591.5,683.6L1592.2,681.7L1592.9,679.8L1593.6,677.9L1594.3,676.1L1595.0,674.2L1595.7,672.3L1596.4,670.4L1597.0,668.6L1597.7,666.7L1598.4,664.8L1599.1,662.9L1599.8,661.1L1600.5,659.2L1601.2,657.3L1601.9,655.4L1602.6,653.5L1603.3,651.7L1604.0,649.8L1604.7,647.9L1605.4,646.0L1606.1,644.2L1606.8,642.3L1607.5,640.4L1608.2,638.6L1609.0,636.7L1609.7,634.8L1610.4,633.0L1611.1,631.1L1611.9,629.2L1612.6,627.4L1613.4,625.5L1614.1,623.6L1614.8,621.8L1615.6,619.9L1616.3,618.0L1617.1,616.2L1617.8,614.3L1618.6,612.5L1619.3,610.6L1620.1,608.7L1620.8,606.9L1621.6,605.0L1622.4,603.2L1623.1,601.3L1623.9,599.4L1624.6,597.6L1625.4,595.7L1626.1,593.9L1626.9,592.0L1627.7,590.1L1628.4,588.3L1629.2,586.4L1629.9,584.6L1630.7,582.7L1631.5,580.9L1632.2,579.0L1633.0,577.1L1633.7,575.3L1634.5,573.4L1635.2,571.6L1636.0,569.7L1636.8,567.8L1637.5,566.0L1638.3,564.1L1639.0,562.3L1639.7,560.4L1640.5,558.5L1641.2,556.7L1642.0,554.8L1642.7,553.0L1643.4,551.1L1644.2,549.2L1644.9,547.4L1645.6,545.5L1646.4,543.6L1647.1,541.8L1647.8,539.9L1648.5,538.1L1649.2,536.2L1650.0,534.3L1650.7,532.5L1651.4,530.6L1652.1,528.7L1652.8,526.8L1653.5,525.0L1654.2,523.1L1654.9,521.2L1655.6,519.4L1656.3,517.5L1657.0,515.6L1657.7,513.8L1658.4,511.9L1659.1,510.0L1659.8,508.1L1660.5,506.3L1661.2,504.4L1661.9,502.5L1662.6,500.7L1663.3,498.8L1664.0,496.9L1664.7,495.0L1665.4,493.2L1666.1,491.3L1666.8,489.4L1667.5,487.6L1668.2,485.7L1668.9,483.8L1669.6,481.9L1670.3,480.1L1671.0,478.2L1671.6,476.3L1672.3,474.4L1673.0,472.6L1673.7,470.7L1674.4,468.8L1675.1,466.9L1675.8,465.1L1676.5,463.2L1677.2,461.3L1677.9,459.4L1678.7,457.6L1679.4,455.7L1680.1,453.8L1680.8,452.0L1681.5,450.1L1682.2,448.2L1682.9,446.3L1683.6,444.5L1684.4,442.6L1685.1,440.7L1685.8,438.9L1686.5,437.0L1687.2,435.1L1688.0,433.2L1688.7,431.4L1689.4,429.5L1690.2,427.6L1690.9,425.8L1691.7,423.9L1692.4,422.0L1693.2,420.2L1693.9,418.3L1694.7,416.4L1695.4,414.5L1696.2,412.7L1696.9,410.8L1697.7,409.0L1698.5,407.1L1699.3,405.2L1700.1,403.4L1700.9,401.5L1701.7,399.7L1702.5,397.8L1703.3,396.0L1704.1,394.2L1704.9,392.3L1705.8,390.5L1706.6,388.7L1707.4,386.8L1708.3,385.0L1709.2,383.2L1710.1,381.4L1711.0,379.6L1711.9,377.8L1712.8,376.0L1713.7,374.3L1714.6,372.5L1715.6,370.7L1716.5,369.0L1717.5,367.2L1718.5,365.5L1719.5,363.8L1720.5,362.0L1721.5,360.3L1722.5,358.6L1723.6,356.9L1724.7,355.2L1725.7,353.6L1726.8,351.9L1728.0,350.2L1729.1,348.6L1730.2,347.0L1731.4,345.4L1732.6,343.7L1733.8,342.2L1735.0,340.6L1736.2,339.0L1737.4,337.4L1738.7,335.9L1739.9,334.3L1741.2,332.8L1742.5,331.3L1743.8,329.8L1745.2,328.3L1746.5,326.8L1747.9,325.3L1749.2,323.9L1750.6,322.4L1752.0,321.0L1753.4,319.6L1754.8,318.2L1756.3,316.8L1757.7,315.4L1759.2,314.0L1760.6,312.7L1762.1,311.3L1763.6,310.0L1765.1,308.7L1766.6,307.4L1768.2,306.1L1769.7,304.8L1771.2,303.5L1772.8,302.3L1774.4,301.0L1776.0,299.8L1777.6,298.6L1779.2,297.4L1780.8,296.2L1782.4,295.0L1784.0,293.8L1785.7,292.7L1787.3,291.5L1789.0,290.4L1790.7,289.3L1792.4,288.2L1794.1,287.1L1795.8,286.1L1797.5,285.0L1799.2,284.0L1800.9,282.9L1802.6,281.9L1804.4,280.9L1806.1,280.0L1807.9,279.0L1809.6,278.0L1811.4,277.1L1813.2,276.2L1815.0,275.3L1816.8,274.4L1818.6,273.5L1820.4,272.6L1822.2,271.8L1824.0,270.9L1825.8,270.1L1827.7,269.3L1829.5,268.5" stroke="#ff383a" stroke-width="11.5" stroke-linecap="butt"/><path d="M1983.1,215.2L1981.1,215.3L1979.1,215.4L1977.1,215.6L1975.1,215.7L1973.1,215.8L1971.1,215.9L1969.1,216.1L1967.1,216.2L1965.1,216.3L1963.1,216.5L1961.1,216.6L1959.1,216.7L1957.1,216.9L1955.1,217.0L1953.1,217.1L1951.1,217.3L1949.1,217.4L1947.1,217.5L1945.1,217.7L1943.1,217.8L1941.1,218.0L1939.1,218.1L1937.1,218.3L1935.1,218.4L1933.1,218.6L1931.1,218.7L1929.1,218.9L1927.1,219.0L1925.1,219.2L1923.1,219.3L1921.1,219.5L1919.1,219.6L1917.1,219.8L1915.1,219.9L1913.1,220.1L1911.2,220.2L1909.2,220.4L1907.2,220.6L1905.2,220.7L1903.2,220.9L1901.2,221.0L1899.2,221.2L1897.2,221.4L1895.2,221.5L1893.2,221.7L1891.2,221.9L1889.2,222.0L1887.2,222.2L1885.2,222.4L1883.2,222.5L1881.2,222.7L1879.2,222.9L1877.2,223.0L1875.2,223.2L1873.2,223.4L1871.2,223.6L1869.2,223.7L1867.3,223.9L1865.3,224.1L1863.3,224.3L1861.3,224.4L1859.3,224.6L1857.3,224.8L1855.3,225.0L1853.3,225.2L1851.3,225.3L1849.3,225.5L1847.3,225.7L1845.3,225.9L1843.3,226.1L1841.3,226.3L1839.3,226.5L1837.3,226.6L1835.3,226.8L1833.4,227.0L1831.4,227.2L1829.4,227.4L1827.4,227.6L1825.4,227.8L1823.4,228.0L1821.4,228.1L1819.4,228.3L1817.4,228.5L1815.4,228.7L1813.4,228.9L1811.4,229.1L1809.4,229.3L1807.4,229.5L1805.4,229.7L1803.5,229.9L1801.5,230.1L1799.5,230.3L1797.5,230.5L1795.5,230.7L1793.5,230.9L1791.5,231.1L1789.5,231.3L1787.5,231.5L1785.5,231.7L1783.5,231.9L1781.5,232.1L1779.5,232.3L1777.5,232.5L1775.6,232.7L1773.6,232.9L1771.6,233.1L1769.6,233.3L1767.6,233.5L1765.6,233.7L1763.6,233.9L1761.6,234.1L1759.6,234.3L1757.6,234.5L1755.6,234.7L1753.6,234.9L1751.6,235.1L1749.7,235.3L1747.7,235.5L1745.7,235.7L1743.7,235.9L1741.7,236.1L1739.7,236.3L1737.7,236.5L1735.7,236.8L1733.7,237.0L1731.7,237.2L1729.7,237.4L1727.7,237.6L1725.7,237.8L1723.8,238.0L1721.8,238.2L1719.8,238.4L1717.8,238.6L1715.8,238.8L1713.8,239.0L1711.8,239.2L1709.8,239.5L1707.8,239.7L1705.8,239.9L1703.8,240.1L1701.8,240.3L1699.8,240.5L1697.8,240.7L1695.9,240.9L1693.9,241.1L1691.9,241.3L1689.9,241.5L1687.9,241.8L1685.9,242.0L1683.9,242.2L1681.9,242.4L1679.9,242.6L1677.9,242.8L1675.9,243.0L1673.9,243.2L1671.9,243.4L1669.9,243.6L1667.9,243.9L1665.9,244.1L1664.0,244.3L1662.0,244.5L1660.0,244.7L1658.0,244.9L1656.0,245.1L1654.0,245.3L1652.0,245.5L1650.0,245.8L1648.0,246.0L1646.0,246.2L1644.0,246.4L1642.0,246.6L1640.0,246.8L1638.0,247.0L1636.1,247.3L1634.1,247.5L1632.1,247.7L1630.1,247.9L1628.1,248.1L1626.1,248.4L1624.1,248.6L1622.1,248.8L1620.1,249.0L1618.1,249.3L1616.1,249.5L1614.1,249.7L1612.2,249.9L1610.2,250.2L1608.2,250.4L1606.2,250.6L1604.2,250.9L1602.2,251.1L1600.2,251.4L1598.2,251.6L1596.2,251.8L1594.3,252.1L1592.3,252.3L1590.3,252.6L1588.3,252.8L1586.3,253.1L1584.3,253.3L1582.3,253.6L1580.3,253.8L1578.4,254.1L1576.4,254.4L1574.4,254.6L1572.4,254.9L1570.4,255.2L1568.4,255.4L1566.5,255.7L1564.5,256.0L1562.5,256.3L1560.5,256.5L1558.5,256.8L1556.6,257.1L1554.6,257.4L1552.6,257.7L1550.6,258.0L1548.6,258.3L1546.7,258.6L1544.7,258.9L1542.7,259.2L1540.7,259.5L1538.8,259.8L1536.8,260.1L1534.8,260.4L1532.8,260.7L1530.9,261.0L1528.9,261.4L1526.9,261.7L1524.9,262.0L1523.0,262.3L1521.0,262.7L1519.0,263.0L1517.1,263.4L1515.1,263.7L1513.1,264.1L1511.2,264.4L1509.2,264.8L1507.2,265.1L1505.3,265.5L1503.3,265.9L1501.3,266.2L1499.4,266.6L1497.4,267.0L1495.5,267.4L1493.5,267.7L1491.5,268.1L1489.6,268.5L1487.6,268.9L1485.7,269.3L1483.7,269.7L1481.7,270.1L1479.8,270.6L1477.8,271.0L1475.9,271.4L1473.9,271.8L1472.0,272.2L1470.0,272.7L1468.1,273.1L1466.1,273.5L1464.2,274.0L1462.2,274.4L1460.3,274.9L1458.3,275.3L1456.4,275.8L1454.5,276.3L1452.5,276.7L1450.6,277.2L1448.6,277.7L1446.7,278.2L1444.7,278.7L1442.8,279.1L1440.9,279.6L1438.9,280.1L1437.0,280.6L1435.0,281.1L1433.1,281.6L1431.2,282.2L1429.2,282.7L1427.3,283.2L1425.4,283.7L1423.4,284.2L1421.5,284.8L1419.6,285.3L1417.6,285.8L1415.7,286.4L1413.8,286.9L1411.9,287.5L1409.9,288.0L1408.0,288.6L1406.1,289.2L1404.2,289.7L1402.2,290.3L1400.3,290.9L1398.4,291.5L1396.5,292.1L1394.5,292.6L1392.6,293.2L1390.7,293.8L1388.8,294.4L1386.9,295.0L1385.0,295.7L1383.0,296.3L1381.1,296.9L1379.2,297.5L1377.3,298.1L1375.4,298.8L1373.5,299.4L1371.6,300.0L1369.6,300.7L1367.7,301.3L1365.8,302.0L1363.9,302.6L1362.0,303.3L1360.1,304.0L1358.2,304.6L1356.3,305.3L1354.4,306.0L1352.5,306.7L1350.6,307.3L1348.7,308.0L1346.8,308.7L1344.9,309.4L1343.0,310.2L1341.1,310.9L1339.2,311.6L1337.3,312.3L1335.5,313.1L1333.6,313.8L1331.7,314.6L1329.9,315.3L1328.0,316.1L1326.1,316.9L1324.3,317.7L1322.4,318.5L1320.6,319.3L1318.8,320.1L1316.9,320.9L1315.1,321.8L1313.3,322.6L1311.5,323.5L1309.7,324.3L1307.9,325.2L1306.1,326.1L1304.3,327.0L1302.5,327.9L1300.7,328.8L1299.0,329.8L1297.2,330.7L1295.5,331.7L1293.7,332.7L1292.0,333.7L1290.3,334.7L1288.5,335.7L1286.8,336.7L1285.1,337.7L1283.5,338.8L1281.8,339.9L1280.1,341.0L1278.5,342.1L1276.8,343.2L1275.2,344.3L1273.5,345.4L1271.9,346.6L1270.3,347.8L1268.7,348.9L1267.1,350.1L1265.6,351.3L1264.0,352.6L1262.4,353.8L1260.9,355.0L1259.3,356.3L1257.8,357.5L1256.3,358.8L1254.8,360.1L1253.3,361.4L1251.8,362.7L1250.3,364.0L1248.9,365.4L1247.4,366.7L1246.0,368.1L1244.5,369.4L1243.1,370.8L1241.7,372.2L1240.3,373.6L1238.9,375.0L1237.5,376.4L1236.2,377.9L1234.8,379.3L1233.4,380.7L1232.1,382.2L1230.8,383.7L1229.4,385.1L1228.1,386.6L1226.8,388.1L1225.5,389.6L1224.2,391.1L1223.0,392.6L1221.7,394.1L1220.4,395.7L1219.2,397.2L1217.9,398.8L1216.7,400.3L1215.5,401.9L1214.2,403.4L1213.0,405.0L1211.8,406.6L1210.6,408.2L1209.4,409.8L1208.2,411.4L1207.1,413.0L1205.9,414.6L1204.7,416.2L1203.5,417.8L1202.4,419.5L1201.2,421.1L1200.1,422.7L1198.9,424.4L1197.8,426.0L1196.7,427.7L1195.6,429.3L1194.4,431.0L1193.3,432.7L1192.2,434.4L1191.1,436.0L1190.0,437.7L1188.9,439.4L1187.8,441.1L1186.7,442.8L1185.6,444.5L1184.5,446.2L1183.5,447.9L1182.4,449.6L1181.3,451.3L1180.2,453.0L1179.2,454.7L1178.1,456.4L1177.0,458.1L1176.0,459.9L1174.9,461.6L1173.8,463.3L1172.8,465.0L1171.7,466.7L1170.7,468.5L1169.6,470.2L1168.6,471.9L1167.5,473.7L1166.5,475.4L1165.4,477.1L1164.4,478.8L1163.3,480.6L1162.3,482.3L1161.2,484.0L1160.2,485.8L1159.1,487.5L1158.1,489.2L1157.0,490.9L1156.0,492.7L1154.9,494.4L1153.8,496.1L1152.8,497.8L1151.7,499.6L1150.7,501.3L1149.6,503.0L1148.6,504.7L1147.5,506.4L1146.4,508.2L1145.4,509.9L1144.3,511.6L1143.2,513.3L1142.1,515.0L1141.1,516.7L1140.0,518.4L1138.9,520.1L1137.8,521.8L1136.8,523.5L1135.7,525.2L1134.6,526.9L1133.5,528.6L1132.4,530.3L1131.3,532.0L1130.3,533.7L1129.2,535.4L1128.1,537.0L1127.0,538.7L1125.9,540.4L1124.8,542.1L1123.7,543.8L1122.6,545.5L1121.5,547.1L1120.4,548.8L1119.3,550.5L1118.2,552.2L1117.1,553.8L1116.0,555.5L1114.9,557.2L1113.8,558.9L1112.7,560.5L1111.6,562.2L1110.5,563.9L1109.4,565.5L1108.2,567.2L1107.1,568.9L1106.0,570.5L1104.9,572.2L1103.8,573.9L1102.7,575.5L1101.6,577.2L1100.4,578.8L1099.3,580.5L1098.2,582.2L1097.1,583.8L1096.0,585.5L1094.8,587.1L1093.7,588.8L1092.6,590.4L1091.5,592.1L1090.3,593.7L1089.2,595.4L1088.1,597.0L1086.9,598.7L1085.8,600.3L1084.7,602.0L1083.6,603.6L1082.4,605.3L1081.3,606.9L1080.2,608.6L1079.0,610.2L1077.9,611.9L1076.8,613.5L1075.6,615.1L1074.5,616.8L1073.3,618.4L1072.2,620.1L1071.1,621.7L1069.9,623.3L1068.8,625.0L1067.7,626.6L1066.5,628.3L1065.4,629.9L1064.2,631.5L1063.1,633.2L1062.0,634.8L1060.8,636.5L1059.7,638.1L1058.5,639.7L1057.4,641.4L1056.2,643.0L1055.1,644.6L1054.0,646.3L1052.8,647.9L1051.7,649.5L1050.5,651.2L1049.4,652.8L1048.2,654.4L1047.1,656.1L1045.9,657.7L1044.8,659.3L1043.6,661.0L1042.5,662.6L1041.3,664.2L1040.2,665.9L1039.1,667.5L1037.9,669.1L1036.8,670.8L1035.6,672.4L1034.5,674.0L1033.3,675.7L1032.2,677.3L1031.0,678.9L1029.9,680.6L1028.7,682.2L1027.6,683.8L1026.4,685.5L1025.3,687.1L1024.1,688.7L1023.0,690.4L1021.8,692.0L1020.7,693.6L1019.6,695.3L1018.4,696.9L1017.3,698.5L1016.1,700.2L1015.0,701.8L1013.8,703.4L1012.7,705.1L1011.5,706.7L1010.4,708.3L1009.2,710.0L1008.1,711.6L1007.0,713.3L1005.8,714.9L1004.7,716.5L1003.5,718.2L1002.4,719.8L1001.2,721.5L1000.1,723.1L999.0,724.7L997.8,726.4L996.7,728.0L995.5,729.7L994.4,731.3L993.3,733.0L992.1,734.6L991.0,736.2L989.8,737.9L988.7,739.5L987.6,741.2L986.4,742.8L985.3,744.5L984.2,746.1L983.0,747.8L981.9,749.4L980.8,751.1L979.6,752.7L978.5,754.4L977.4,756.1L976.2,757.7L975.1,759.4L974.0,761.0L972.9,762.7L971.7,764.3L970.6,766.0L969.5,767.7L968.4,769.3L967.2,771.0L966.1,772.6L965.0,774.3L963.8,776.0L962.7,777.6L961.6,779.3L960.5,780.9L959.3,782.6L958.2,784.3L957.1,785.9L956.0,787.6L954.8,789.2L953.7,790.9L952.6,792.6L951.5,794.2L950.3,795.9L949.2,797.6L948.1,799.2L947.0,800.9L945.9,802.6L944.7,804.2L943.6,805.9L942.5,807.5L941.3,809.2L940.2,810.9L939.1,812.5L938.0,814.2L936.8,815.9L935.7,817.5L934.6,819.2L933.5,820.8L932.3,822.5L931.2,824.2L930.1,825.8L928.9,827.5L927.8,829.1L926.7,830.8L925.5,832.5L924.4,834.1L923.3,835.8L922.1,837.4L921.0,839.1L919.9,840.7L918.7,842.4L917.6,844.1L916.4,845.7L915.3,847.4L914.2,849.0L913.0,850.7L911.9,852.3L910.7,854.0L909.6,855.6L908.4,857.3L907.3,858.9L906.1,860.5L905.0,862.2L903.8,863.8L902.7,865.5L901.6,867.1L900.4,868.8L899.3,870.4L898.1,872.1L896.9,873.7L895.8,875.3L894.6,877.0L893.5,878.6L892.3,880.3L891.2,881.9L890.0,883.5L888.9,885.2L887.7,886.8L886.6,888.5L885.4,890.1L884.3,891.8L883.1,893.4L882.0,895.0L880.9,896.7L879.7,898.3L878.6,900.0L877.4,901.6L876.3,903.3L875.1,904.9L874.0,906.5L872.8,908.2L871.7,909.8L870.6,911.5L869.4,913.1L868.3,914.8L867.2,916.4L866.0,918.1L864.9,919.7L863.8,921.4L862.6,923.0L861.5,924.7L860.4,926.3L859.3,928.0L858.1,929.6L857.0,931.3L855.9,933.0L854.8,934.6L853.7,936.3L852.6,937.9L851.5,939.6L850.4,941.3L849.2,942.9L848.1,944.6L847.0,946.3L846.0,948.0L844.9,949.6L843.8,951.3L842.7,953.0L841.6,954.7L840.5,956.3L839.4,958.0L838.4,959.7L837.3,961.4L836.2,963.1L835.1,964.8L834.1,966.5L833.0,968.1L832.0,969.8L830.9,971.5L829.8,973.2L828.8,974.9L827.7,976.6L826.7,978.3L825.7,980.0L824.6,981.7L823.6,983.5L822.5,985.2L821.5,986.9L820.5,988.6L819.5,990.3L818.4,992.0L817.4,993.7L816.4,995.5L815.4,997.2L814.4,998.9L813.4,1000.6L812.4,1002.4L811.4,1004.1L810.4,1005.8L809.4,1007.6L808.4,1009.3L807.4,1011.0L806.4,1012.8L805.5,1014.5L804.5,1016.3L803.5,1018.0L802.5,1019.8L801.6,1021.5L800.6,1023.3L799.6,1025.0L798.7,1026.8L797.7,1028.5L796.8,1030.3L795.8,1032.0L794.9,1033.8L793.9,1035.6L793.0,1037.3L792.1,1039.1L791.1,1040.9L790.2,1042.7L789.3,1044.4L788.4,1046.2L787.5,1048.0L786.5,1049.8L785.6,1051.6L784.7,1053.3L783.8,1055.1L782.9,1056.9L782.0,1058.7L781.1,1060.5L780.3,1062.3L779.4,1064.1L778.5,1065.9L777.6,1067.7L776.7,1069.5L775.9,1071.3L775.0,1073.1L774.1,1074.9L773.3,1076.8L772.4,1078.6L771.6,1080.4L770.7,1082.2L769.9,1084.0L769.0,1085.9L768.2,1087.7L767.4,1089.5L766.5,1091.3L765.7,1093.2L764.9,1095.0L764.1,1096.9L763.3,1098.7L762.5,1100.5L761.7,1102.4L760.9,1104.2L760.1,1106.1L759.3,1107.9L758.5,1109.8L757.7,1111.6L756.9,1113.5L756.1,1115.3L755.3,1117.2L754.5,1119.1L753.8,1120.9L753.0,1122.8L752.2,1124.6L751.4,1126.5L750.6,1128.3L749.8,1130.2L749.1,1132.1L748.3,1133.9L747.5,1135.8L746.7,1137.6L745.9,1139.5L745.1,1141.3L744.3,1143.2L743.5,1145.0L742.7,1146.9L741.9,1148.7L741.1,1150.6L740.3,1152.4L739.5,1154.2L738.7,1156.1L737.9,1157.9L737.0,1159.7L736.2,1161.5L735.4,1163.4L734.5,1165.2L733.7,1167.0L732.8,1168.8L732.0,1170.6L731.1,1172.4L730.2,1174.2L729.3,1176.0L728.4,1177.8L727.5,1179.5L726.6,1181.3L725.7,1183.1L724.8,1184.9L723.8,1186.6L722.9,1188.4L721.9,1190.1L721.0,1191.8L720.0,1193.6L719.0,1195.3L718.0,1197.0L717.0,1198.7L716.0,1200.4L714.9,1202.1L713.9,1203.8L712.8,1205.5L711.8,1207.2L710.7,1208.8L709.6,1210.5L708.5,1212.1L707.4,1213.8L706.2,1215.4L705.1,1217.0L704.0,1218.7L702.8,1220.3L701.6,1221.9L700.5,1223.5L699.3,1225.1L698.1,1226.7L696.9,1228.2L695.6,1229.8L694.4,1231.4L693.2,1232.9L691.9,1234.5L690.7,1236.0L689.4,1237.6L688.1,1239.1L686.8,1240.6L685.5,1242.1L684.2,1243.6L682.9,1245.1L681.6,1246.6L680.2,1248.1L678.9,1249.6L677.5,1251.0L676.2,1252.5L674.8,1254.0L673.4,1255.4L672.0,1256.8L670.7,1258.3L669.2,1259.7L667.8,1261.1L666.4,1262.5L665.0,1264.0L663.6,1265.3L662.1,1266.7L660.7,1268.1L659.2,1269.5L657.7,1270.9L656.3,1272.2L654.8,1273.6L653.3,1275.0L651.8,1276.3L650.3,1277.6L648.8,1279.0L647.3,1280.3L645.8,1281.6L644.2,1282.9L642.7,1284.2L641.2,1285.5L639.6,1286.8L638.1,1288.1L636.5,1289.4L635.0,1290.7L633.4,1291.9L631.9,1293.2L630.3,1294.5L628.7,1295.7L627.1,1297.0L625.6,1298.2L624.0,1299.4L622.4,1300.7L620.8,1301.9L619.2,1303.1L617.6,1304.4L616.0,1305.6L614.4,1306.8L612.8,1308.0L611.2,1309.2L609.6,1310.4L608.0,1311.6L606.4,1312.8L604.8,1314.0L606.7,1314.7L608.5,1315.5L610.4,1316.2L612.3,1316.8L614.2,1317.5L616.1,1318.2L617.9,1318.8L619.8,1319.5L621.7,1320.1L623.6,1320.7L625.5,1321.3L627.4,1321.9L629.3,1322.5L631.2,1323.0L633.2,1323.6L635.1,1324.1L637.0,1324.6L638.9,1325.1L640.8,1325.6L642.8,1326.1L644.7,1326.6L646.6,1327.0L648.6,1327.5L650.5,1327.9L652.4,1328.4L654.4,1328.8L656.3,1329.2L658.3,1329.6L660.2,1330.0L662.2,1330.3L664.1,1330.7L666.1,1331.1L668.0,1331.4L670.0,1331.7L671.9,1332.1L673.9,1332.4L675.9,1332.7L677.8,1333.0L679.8,1333.3L681.8,1333.5L683.7,1333.8L685.7,1334.1L687.7,1334.3L689.7,1334.6L691.7,1334.8L693.6,1335.0L695.6,1335.2L697.6,1335.4L699.6,1335.6L701.6,1335.8L703.6,1336.0L705.6,1336.2L707.6,1336.4L709.5,1336.5L711.5,1336.7L713.5,1336.8L715.5,1337.0L717.5,1337.1L719.5,1337.2L721.5,1337.4L723.5,1337.5L725.5,1337.6L727.5,1337.7L729.5,1337.8L731.5,1337.9L733.6,1337.9L735.6,1338.0L737.6,1338.1L739.6,1338.2L741.6,1338.2L743.6,1338.3L745.6,1338.3L747.6,1338.4L749.6,1338.4L751.6,1338.5L753.7,1338.5L755.7,1338.5L757.7,1338.5L759.7,1338.6L761.7,1338.6L763.7,1338.6L765.7,1338.6L767.7,1338.6L769.8,1338.6L771.8,1338.6L773.8,1338.6L775.8,1338.6L777.8,1338.6L779.8,1338.6L781.8,1338.6L783.9,1338.5L785.9,1338.5L787.9,1338.5L789.9,1338.5L791.9,1338.4L793.9,1338.4L795.9,1338.4L798.0,1338.3L800.0,1338.3L802.0,1338.3L804.0,1338.2L806.0,1338.2L808.0,1338.1L810.0,1338.1L812.0,1338.1L814.0,1338.0L816.0,1338.0L818.1,1337.9L820.1,1337.9L822.1,1337.8L824.1,1337.8L826.1,1337.7L828.1,1337.7L830.1,1337.6L832.1,1337.6L834.1,1337.5L836.1,1337.4L838.1,1337.4L840.1,1337.3L842.1,1337.2L844.1,1337.2L846.1,1337.1L848.1,1337.0L850.1,1337.0L852.1,1336.9L854.1,1336.8L856.1,1336.8L858.1,1336.7L860.1,1336.6L862.1,1336.5L864.1,1336.4L866.1,1336.4L868.1,1336.3L870.1,1336.2L872.1,1336.1L874.1,1336.0L876.1,1335.9L878.1,1335.8L880.1,1335.7L882.1,1335.7L884.1,1335.6L886.1,1335.5L888.1,1335.4L890.1,1335.3L892.1,1335.2L894.1,1335.1L896.1,1335.0L898.1,1334.9L900.0,1334.8L902.0,1334.6L904.0,1334.5L906.0,1334.4L908.0,1334.3L910.0,1334.2L912.0,1334.1L914.0,1334.0L916.0,1333.9L918.0,1333.7L920.0,1333.6L922.0,1333.5L924.0,1333.4L926.0,1333.2L928.0,1333.1L929.9,1333.0L931.9,1332.9L933.9,1332.7L935.9,1332.6L937.9,1332.5L939.9,1332.3L941.9,1332.2L943.9,1332.1L945.9,1331.9L947.9,1331.8L949.9,1331.6L951.9,1331.5L953.8,1331.3L955.8,1331.2L957.8,1331.0L959.8,1330.9L961.8,1330.7L963.8,1330.6L965.8,1330.4L967.8,1330.3L969.8,1330.1L971.8,1330.0L973.8,1329.8L975.8,1329.6L977.7,1329.5L979.7,1329.3L981.7,1329.1L983.7,1329.0L985.7,1328.8L987.7,1328.6L989.7,1328.5L991.7,1328.3L993.7,1328.1L995.7,1327.9L997.7,1327.8L999.7,1327.6L1001.6,1327.4L1003.6,1327.2L1005.6,1327.0L1007.6,1326.8L1009.6,1326.6L1011.6,1326.5L1013.6,1326.3L1015.6,1326.1L1017.6,1325.9L1019.6,1325.7L1021.6,1325.5L1023.6,1325.3L1025.6,1325.1L1027.6,1324.9L1029.5,1324.7L1031.5,1324.5L1033.5,1324.2L1035.5,1324.0L1037.5,1323.8L1039.5,1323.6L1041.5,1323.4L1043.5,1323.2L1045.5,1322.9L1047.5,1322.7L1049.5,1322.5L1051.5,1322.2L1053.5,1322.0L1055.4,1321.8L1057.4,1321.5L1059.4,1321.3L1061.4,1321.0L1063.4,1320.8L1065.4,1320.5L1067.4,1320.3L1069.4,1320.0L1071.4,1319.8L1073.3,1319.5L1075.3,1319.2L1077.3,1319.0L1079.3,1318.7L1081.3,1318.4L1083.3,1318.2L1085.3,1317.9L1087.2,1317.6L1089.2,1317.3L1091.2,1317.0L1093.2,1316.7L1095.2,1316.4L1097.2,1316.1L1099.1,1315.8L1101.1,1315.5L1103.1,1315.2L1105.1,1314.9L1107.1,1314.6L1109.0,1314.3L1111.0,1313.9L1113.0,1313.6L1115.0,1313.3L1116.9,1312.9L1118.9,1312.6L1120.9,1312.3L1122.9,1311.9L1124.8,1311.6L1126.8,1311.2L1128.8,1310.9L1130.8,1310.5L1132.7,1310.1L1134.7,1309.8L1136.7,1309.4L1138.6,1309.0L1140.6,1308.6L1142.6,1308.2L1144.5,1307.8L1146.5,1307.5L1148.5,1307.1L1150.4,1306.6L1152.4,1306.2L1154.3,1305.8L1156.3,1305.4L1158.3,1305.0L1160.2,1304.6L1162.2,1304.1L1164.1,1303.7L1166.1,1303.3L1168.0,1302.8L1170.0,1302.4L1171.9,1301.9L1173.9,1301.5L1175.8,1301.0L1177.8,1300.5L1179.7,1300.1L1181.7,1299.6L1183.6,1299.1L1185.6,1298.6L1187.5,1298.1L1189.4,1297.6L1191.4,1297.1L1193.3,1296.6L1195.3,1296.1L1197.2,1295.6L1199.1,1295.1L1201.1,1294.5L1203.0,1294.0L1204.9,1293.5L1206.9,1292.9L1208.8,1292.4L1210.7,1291.8L1212.6,1291.2L1214.6,1290.7L1216.5,1290.1L1218.4,1289.5L1220.3,1288.9L1222.2,1288.3L1224.2,1287.8L1226.1,1287.2L1228.0,1286.5L1229.9,1285.9L1231.8,1285.3L1233.7,1284.7L1235.6,1284.1L1237.5,1283.4L1239.4,1282.8L1241.3,1282.1L1243.2,1281.5L1245.1,1280.8L1247.0,1280.1L1248.9,1279.5L1250.8,1278.8L1252.7,1278.1L1254.6,1277.4L1256.5,1276.7L1258.4,1276.0L1260.3,1275.3L1262.2,1274.6L1264.0,1273.8L1265.9,1273.1L1267.8,1272.4L1269.6,1271.6L1271.5,1270.8L1273.4,1270.1L1275.2,1269.3L1277.1,1268.5L1278.9,1267.7L1280.7,1266.9L1282.6,1266.0L1284.4,1265.2L1286.2,1264.3L1288.0,1263.5L1289.8,1262.6L1291.6,1261.7L1293.4,1260.8L1295.2,1259.9L1297.0,1259.0L1298.8,1258.1L1300.5,1257.1L1302.3,1256.1L1304.0,1255.2L1305.8,1254.2L1307.5,1253.2L1309.2,1252.2L1310.9,1251.1L1312.6,1250.1L1314.3,1249.0L1316.0,1247.9L1317.6,1246.8L1319.3,1245.7L1320.9,1244.6L1322.6,1243.4L1324.2,1242.2L1325.8,1241.1L1327.4,1239.9L1329.0,1238.6L1330.6,1237.4L1332.1,1236.1L1333.7,1234.9L1335.2,1233.6L1336.7,1232.3L1338.2,1231.0L1339.7,1229.6L1341.2,1228.3L1342.6,1226.9L1344.1,1225.5L1345.5,1224.1L1346.9,1222.7L1348.2,1221.2L1349.6,1219.8L1350.9,1218.3L1352.3,1216.9L1353.6,1215.4L1354.9,1213.8L1356.1,1212.3L1357.4,1210.8L1358.6,1209.2L1359.8,1207.7L1361.0,1206.1L1362.2,1204.5L1363.4,1202.9L1364.5,1201.3L1365.7,1199.7L1366.8,1198.0L1367.9,1196.4L1369.0,1194.8L1370.1,1193.1L1371.2,1191.4L1372.3,1189.7L1373.3,1188.0L1374.4,1186.3L1375.4,1184.6L1376.4,1182.9L1377.5,1181.2L1378.5,1179.5L1379.5,1177.7L1380.5,1176.0L1381.4,1174.2L1382.4,1172.5L1383.4,1170.7L1384.3,1169.0L1385.3,1167.2L1386.2,1165.4L1387.2,1163.6L1388.1,1161.9L1389.0,1160.1L1389.9,1158.3L1390.8,1156.5L1391.8,1154.7L1392.7,1152.9L1393.6,1151.1L1394.5,1149.3L1395.4,1147.5L1396.3,1145.7L1397.2,1143.9L1398.1,1142.1L1398.9,1140.3L1399.8,1138.5L1400.7,1136.7L1401.6,1134.9L1402.5,1133.1L1403.4,1131.3L1404.2,1129.5L1405.1,1127.7L1406.0,1125.9L1406.8,1124.1L1407.7,1122.3L1408.6,1120.4L1409.4,1118.6L1410.3,1116.8L1411.1,1115.0L1412.0,1113.2L1412.8,1111.4L1413.7,1109.6L1414.5,1107.7L1415.4,1105.9L1416.2,1104.1L1417.1,1102.3L1417.9,1100.5L1418.7,1098.6L1419.6,1096.8L1420.4,1095.0L1421.2,1093.2L1422.0,1091.4L1422.9,1089.5L1423.7,1087.7L1424.5,1085.9L1425.3,1084.0L1426.1,1082.2L1427.0,1080.4L1427.8,1078.6L1428.6,1076.7L1429.4,1074.9L1430.2,1073.1L1431.0,1071.2L1431.8,1069.4L1432.6,1067.6L1433.4,1065.7L1434.2,1063.9L1435.0,1062.1L1435.8,1060.2L1436.6,1058.4L1437.4,1056.6L1438.2,1054.7L1439.0,1052.9L1439.8,1051.0L1440.5,1049.2L1441.3,1047.4L1442.1,1045.5L1442.9,1043.7L1443.7,1041.8L1444.4,1040.0L1445.2,1038.2L1446.0,1036.3L1446.8,1034.5L1447.5,1032.6L1448.3,1030.8L1449.1,1028.9L1449.8,1027.1L1450.6,1025.2L1451.4,1023.4L1452.1,1021.5L1452.9,1019.7L1453.6,1017.8L1454.4,1016.0L1455.2,1014.1L1455.9,1012.3L1456.7,1010.4L1457.4,1008.6L1458.2,1006.7L1458.9,1004.9L1459.7,1003.0L1460.4,1001.2L1461.2,999.3L1461.9,997.5L1462.7,995.6L1463.4,993.8L1464.2,991.9L1464.9,990.1L1465.7,988.2L1466.4,986.3L1467.1,984.5L1467.9,982.6L1468.6,980.8L1469.4,978.9L1470.1,977.1L1470.8,975.2L1471.6,973.3L1472.3,971.5L1473.0,969.6L1473.8,967.8L1474.5,965.9L1475.2,964.0L1476.0,962.2L1476.7,960.3L1477.4,958.4L1478.1,956.6L1478.9,954.7L1479.6,952.9L1480.3,951.0L1481.1,949.1L1481.8,947.3L1482.5,945.4L1483.2,943.5L1484.0,941.7L1484.7,939.8L1485.4,937.9L1486.1,936.1L1486.9,934.2L1487.6,932.4L1488.3,930.5L1489.0,928.6L1489.7,926.8L1490.5,924.9L1491.2,923.0L1491.9,921.2L1492.6,919.3L1493.3,917.4L1494.1,915.6L1494.8,913.7L1495.5,911.8L1496.2,910.0L1496.9,908.1L1497.7,906.2L1498.4,904.3L1499.1,902.5L1499.8,900.6L1500.5,898.7L1501.3,896.9L1502.0,895.0L1502.7,893.1L1503.4,891.3L1504.1,889.4L1504.9,887.5L1505.6,885.7L1506.3,883.8L1507.0,881.9L1507.7,880.1L1508.4,878.2L1509.2,876.3L1509.9,874.4L1510.6,872.6L1511.3,870.7L1512.0,868.8L1512.8,867.0L1513.5,865.1L1514.2,863.2L1514.9,861.4L1515.6,859.5L1516.3,857.6L1517.1,855.7L1517.8,853.9L1518.5,852.0L1519.2,850.1L1519.9,848.3L1520.6,846.4L1521.4,844.5L1522.1,842.6L1522.8,840.8L1523.5,838.9L1524.2,837.0L1524.9,835.1L1525.6,833.3L1526.4,831.4L1527.1,829.5L1527.8,827.7L1528.5,825.8L1529.2,823.9L1529.9,822.0L1530.6,820.2L1531.3,818.3L1532.1,816.4L1532.8,814.5L1533.5,812.7L1534.2,810.8L1534.9,808.9L1535.6,807.0L1536.3,805.2L1537.0,803.3L1537.7,801.4L1538.4,799.5L1539.1,797.7L1539.9,795.8L1540.6,793.9L1541.3,792.0L1542.0,790.2L1542.7,788.3L1543.4,786.4L1544.1,784.5L1544.8,782.6L1545.5,780.8L1546.2,778.9L1546.9,777.0L1547.6,775.1L1548.3,773.3L1549.0,771.4L1549.7,769.5L1550.4,767.6L1551.1,765.7L1551.8,763.9L1552.5,762.0L1553.2,760.1L1553.9,758.2L1554.6,756.3L1555.3,754.5L1556.0,752.6L1556.7,750.7L1557.4,748.8L1558.1,746.9L1558.7,745.1L1559.4,743.2L1560.1,741.3L1560.8,739.4L1561.5,737.5L1562.2,735.7L1562.9,733.8L1563.6,731.9L1564.3,730.0L1565.0,728.1L1565.6,726.2L1566.3,724.4L1567.0,722.5L1567.7,720.6L1568.4,718.7L1569.1,716.8L1569.7,714.9L1570.4,713.1L1571.1,711.2L1571.8,709.3L1572.5,707.4L1573.1,705.5L1573.8,703.6L1574.5,701.8L1575.2,699.9L1575.8,698.0L1576.5,696.1L1577.2,694.2L1577.9,692.3L1578.5,690.4L1579.2,688.5L1579.9,686.7L1580.5,684.8L1581.2,682.9L1581.9,681.0L1582.5,679.1L1583.2,677.2L1583.9,675.3L1584.5,673.4L1585.2,671.6L1585.9,669.7L1586.5,667.8L1587.2,665.9L1587.8,664.0L1588.5,662.1L1589.1,660.2L1589.8,658.3L1590.5,656.4L1591.1,654.5L1591.8,652.6L1592.4,650.8L1593.1,648.9L1593.7,647.0L1594.4,645.1L1595.0,643.2L1595.7,641.3L1596.3,639.4L1597.0,637.5L1597.6,635.6L1598.2,633.7L1598.9,631.8L1599.5,629.9L1600.2,628.0L1600.8,626.1L1601.4,624.2L1602.1,622.3L1602.7,620.4L1603.3,618.6L1604.0,616.7L1604.6,614.8L1605.2,612.9L1605.9,611.0L1606.5,609.1L1607.1,607.2L1607.8,605.3L1608.4,603.4L1609.0,601.5L1609.6,599.6L1610.2,597.7L1610.9,595.8L1611.5,593.9L1612.1,592.0L1612.7,590.1L1613.3,588.2L1613.9,586.3L1614.6,584.4L1615.2,582.5L1615.8,580.6L1616.4,578.7L1617.0,576.8L1617.6,574.9L1618.2,573.0L1618.8,571.1L1619.5,569.2L1620.1,567.3L1620.7,565.4L1621.3,563.4L1621.9,561.5L1622.5,559.6L1623.1,557.7L1623.7,555.8L1624.3,553.9L1624.9,552.0L1625.5,550.1L1626.1,548.2L1626.8,546.3L1627.4,544.4L1628.0,542.5L1628.6,540.6L1629.2,538.7L1629.8,536.8L1630.4,534.9L1631.0,533.0L1631.6,531.1L1632.3,529.2L1632.9,527.3L1633.5,525.4L1634.1,523.5L1634.7,521.6L1635.3,519.7L1635.9,517.8L1636.6,515.9L1637.2,514.0L1637.8,512.1L1638.4,510.2L1639.0,508.3L1639.7,506.4L1640.3,504.5L1640.9,502.6L1641.6,500.7L1642.2,498.8L1642.8,496.9L1643.4,495.0L1644.1,493.1L1644.7,491.2L1645.4,489.3L1646.0,487.4L1646.6,485.5L1647.3,483.6L1647.9,481.7L1648.6,479.8L1649.2,478.0L1649.9,476.1L1650.5,474.2L1651.2,472.3L1651.8,470.4L1652.5,468.5L1653.2,466.6L1653.8,464.7L1654.5,462.8L1655.2,460.9L1655.8,459.0L1656.5,457.2L1657.2,455.3L1657.9,453.4L1658.6,451.5L1659.2,449.6L1659.9,447.7L1660.6,445.8L1661.3,444.0L1662.0,442.1L1662.7,440.2L1663.4,438.3L1664.1,436.4L1664.8,434.5L1665.6,432.7L1666.3,430.8L1667.0,428.9L1667.7,427.0L1668.4,425.1L1669.2,423.3L1669.9,421.4L1670.6,419.5L1671.4,417.6L1672.1,415.8L1672.9,413.9L1673.6,412.0L1674.4,410.2L1675.2,408.3L1675.9,406.4L1676.7,404.6L1677.5,402.7L1678.2,400.8L1679.0,399.0L1679.8,397.1L1680.6,395.2L1681.4,393.4L1682.2,391.5L1683.0,389.7L1683.8,387.8L1684.6,386.0L1685.5,384.1L1686.3,382.3L1687.1,380.4L1688.0,378.6L1688.8,376.8L1689.7,375.0L1690.6,373.2L1691.5,371.3L1692.4,369.5L1693.3,367.8L1694.2,366.0L1695.1,364.2L1696.1,362.4L1697.0,360.7L1698.0,358.9L1699.0,357.2L1700.0,355.5L1701.0,353.8L1702.0,352.1L1703.1,350.4L1704.1,348.7L1705.2,347.0L1706.3,345.4L1707.4,343.7L1708.5,342.1L1709.6,340.5L1710.8,338.9L1711.9,337.3L1713.1,335.7L1714.3,334.2L1715.5,332.6L1716.8,331.1L1718.0,329.6L1719.3,328.1L1720.6,326.6L1721.9,325.2L1723.3,323.7L1724.6,322.3L1726.0,320.9L1727.4,319.5L1728.8,318.2L1730.3,316.8L1731.8,315.5L1733.2,314.2L1734.7,312.9L1736.2,311.6L1737.8,310.3L1739.3,309.1L1740.9,307.9L1742.5,306.6L1744.1,305.4L1745.7,304.3L1747.3,303.1L1748.9,301.9L1750.6,300.8L1752.2,299.7L1753.9,298.5L1755.6,297.4L1757.3,296.4L1759.0,295.3L1760.7,294.2L1762.5,293.2L1764.2,292.1L1766.0,291.1L1767.7,290.1L1769.5,289.1L1771.3,288.1L1773.0,287.2L1774.8,286.2L1776.6,285.2L1778.4,284.3L1780.3,283.4L1782.1,282.5L1783.9,281.5L1785.7,280.6L1787.5,279.8L1789.4,278.9L1791.2,278.0L1793.0,277.1L1794.9,276.3L1796.7,275.4L1798.6,274.6L1800.4,273.8L1802.3,273.0L1804.1,272.1L1806.0,271.3L1807.8,270.5L1809.7,269.8L1811.5,269.0L1813.4,268.2L1815.2,267.4L1817.1,266.7L1819.0,265.9L1820.8,265.2L1822.7,264.4L1824.6,263.7L1826.4,263.0L1828.3,262.3L1830.2,261.5L1832.0,260.8L1833.9,260.1L1835.8,259.4L1837.6,258.7L1839.5,258.1L1841.4,257.4L1843.3,256.7L1845.2,256.0L1847.0,255.4L1848.9,254.7L1850.8,254.0L1852.7,253.4L1854.6,252.7L1856.5,252.1L1858.4,251.5L1860.2,250.8L1862.1,250.2L1864.0,249.6L1865.9,248.9L1867.8,248.3L1869.7,247.7L1871.6,247.1L1873.5,246.5L1875.4,245.8L1877.3,245.2L1879.2,244.6L1881.1,244.0L1883.0,243.4L1884.9,242.8L1886.8,242.2L1888.7,241.6L1890.6,241.0L1892.5,240.4L1894.4,239.8L1896.3,239.2L1898.2,238.7L1900.1,238.1L1902.0,237.5L1903.9,236.9L1905.8,236.3L1907.7,235.7L1909.7,235.1L1911.6,234.5L1913.5,233.9L1915.4,233.4L1917.3,232.8L1919.2,232.2L1921.1,231.6L1923.0,231.0L1924.9,230.4L1926.9,229.8L1928.8,229.3L1930.7,228.7L1932.6,228.1L1934.5,227.5L1936.5,227.0L1938.4,226.4L1940.3,225.8L1942.2,225.3L1944.2,224.7L1946.1,224.2L1948.0,223.6L1949.9,223.1L1951.9,222.6L1953.8,222.1L1955.7,221.5L1957.7,221.0L1959.6,220.5L1961.6,220.0L1963.5,219.5L1965.5,219.1L1967.4,218.6L1969.4,218.1L1971.3,217.7L1973.3,217.2L1975.2,216.8L1977.2,216.4L1979.2,216.0L1981.1,215.6L1983.1,215.2" stroke="#026be4" stroke-width="10.5" stroke-linecap="butt"/></g><g stroke="#000" fill="none" stroke-linecap="butt"><rect x="370.0" y="47.0" width="1723.0" height="1384.0" stroke-width="4.4"/><line x1="356.0" y1="1431.0" x2="370.0" y2="1431.0" stroke-width="4"/><line x1="342.5" y1="1339.9" x2="370.0" y2="1339.9" stroke-width="4"/><line x1="356.0" y1="1247.6" x2="370.0" y2="1247.6" stroke-width="4"/><line x1="342.5" y1="1155.2" x2="370.0" y2="1155.2" stroke-width="4"/><line x1="356.0" y1="1062.9" x2="370.0" y2="1062.9" stroke-width="4"/><line x1="342.5" y1="970.6" x2="370.0" y2="970.6" stroke-width="4"/><line x1="356.0" y1="878.2" x2="370.0" y2="878.2" stroke-width="4"/><line x1="342.5" y1="785.9" x2="370.0" y2="785.9" stroke-width="4"/><line x1="356.0" y1="693.6" x2="370.0" y2="693.6" stroke-width="4"/><line x1="342.5" y1="601.2" x2="370.0" y2="601.2" stroke-width="4"/><line x1="356.0" y1="508.9" x2="370.0" y2="508.9" stroke-width="4"/><line x1="342.5" y1="416.6" x2="370.0" y2="416.6" stroke-width="4"/><line x1="356.0" y1="324.2" x2="370.0" y2="324.2" stroke-width="4"/><line x1="342.5" y1="231.9" x2="370.0" y2="231.9" stroke-width="4"/><line x1="356.0" y1="139.6" x2="370.0" y2="139.6" stroke-width="4"/><line x1="342.5" y1="47.0" x2="370.0" y2="47.0" stroke-width="4"/><line x1="370.0" y1="1431.0" x2="370.0" y2="1458.0" stroke-width="4"/><line x1="561.2" y1="1431.0" x2="561.2" y2="1445.0" stroke-width="4"/><line x1="752.8" y1="1431.0" x2="752.8" y2="1458.0" stroke-width="4"/><line x1="944.4" y1="1431.0" x2="944.4" y2="1445.0" stroke-width="4"/><line x1="1136.1" y1="1431.0" x2="1136.1" y2="1458.0" stroke-width="4"/><line x1="1327.7" y1="1431.0" x2="1327.7" y2="1445.0" stroke-width="4"/><line x1="1519.3" y1="1431.0" x2="1519.3" y2="1458.0" stroke-width="4"/><line x1="1710.9" y1="1431.0" x2="1710.9" y2="1445.0" stroke-width="4"/><line x1="1902.5" y1="1431.0" x2="1902.5" y2="1458.0" stroke-width="4"/><line x1="2093.0" y1="1431.0" x2="2093.0" y2="1445.0" stroke-width="4"/><line x1="542.3" y1="47.0" x2="542.3" y2="60.0" stroke-width="4"/><line x1="714.6" y1="47.0" x2="714.6" y2="73.0" stroke-width="4"/><line x1="886.9" y1="47.0" x2="886.9" y2="60.0" stroke-width="4"/><line x1="1059.2" y1="47.0" x2="1059.2" y2="73.0" stroke-width="4"/><line x1="1231.5" y1="47.0" x2="1231.5" y2="60.0" stroke-width="4"/><line x1="1403.8" y1="47.0" x2="1403.8" y2="73.0" stroke-width="4"/><line x1="1576.1" y1="47.0" x2="1576.1" y2="60.0" stroke-width="4"/><line x1="1748.4" y1="47.0" x2="1748.4" y2="73.0" stroke-width="4"/><line x1="1920.7" y1="47.0" x2="1920.7" y2="60.0" stroke-width="4"/><line x1="2093.0" y1="185.4" x2="2079.3" y2="185.4" stroke-width="4"/><line x1="2093.0" y1="323.8" x2="2065.5" y2="323.8" stroke-width="4"/><line x1="2093.0" y1="462.2" x2="2079.3" y2="462.2" stroke-width="4"/><line x1="2093.0" y1="600.6" x2="2065.5" y2="600.6" stroke-width="4"/><line x1="2093.0" y1="739.0" x2="2079.3" y2="739.0" stroke-width="4"/><line x1="2093.0" y1="877.4" x2="2065.5" y2="877.4" stroke-width="4"/><line x1="2093.0" y1="1015.8" x2="2079.3" y2="1015.8" stroke-width="4"/><line x1="2093.0" y1="1154.2" x2="2065.5" y2="1154.2" stroke-width="4"/><line x1="2093.0" y1="1292.6" x2="2079.3" y2="1292.6" stroke-width="4"/></g><g font-family="'Liberation Sans', Arial, sans-serif" fill="#000"><text transform="translate(322.5,65.3) scale(0.94,1)" font-size="62.5" text-anchor="end" stroke="#fff" stroke-width="0.8">0.008</text><text transform="translate(322.5,250.2) scale(0.94,1)" font-size="62.5" text-anchor="end" stroke="#fff" stroke-width="0.8">0.006</text><text transform="translate(322.5,434.9) scale(0.94,1)" font-size="62.5" text-anchor="end" stroke="#fff" stroke-width="0.8">0.004</text><text transform="translate(322.5,619.5) scale(0.94,1)" font-size="62.5" text-anchor="end" stroke="#fff" stroke-width="0.8">0.002</text><text transform="translate(322.5,804.2) scale(0.94,1)" font-size="62.5" text-anchor="end" stroke="#fff" stroke-width="0.8">0.000</text><text transform="translate(322.5,988.9) scale(0.94,1)" font-size="62.5" text-anchor="end" stroke="#fff" stroke-width="0.8">-0.002</text><text transform="translate(322.5,1173.5) scale(0.94,1)" font-size="62.5" text-anchor="end" stroke="#fff" stroke-width="0.8">-0.004</text><text transform="translate(322.5,1358.2) scale(0.94,1)" font-size="62.5" text-anchor="end" stroke="#fff" stroke-width="0.8">-0.006</text><text transform="translate(370.0,1524.3) scale(0.94,1)" font-size="62.5" text-anchor="middle" stroke="#fff" stroke-width="0.8">-0.5</text><text transform="translate(752.8,1524.3) scale(0.94,1)" font-size="62.5" text-anchor="middle" stroke="#fff" stroke-width="0.8">0.0</text><text transform="translate(1136.1,1524.3) scale(0.94,1)" font-size="62.5" text-anchor="middle" stroke="#fff" stroke-width="0.8">0.5</text><text transform="translate(1519.3,1524.3) scale(0.94,1)" font-size="62.5" text-anchor="middle" stroke="#fff" stroke-width="0.8">1.0</text><text transform="translate(1902.5,1524.3) scale(0.94,1)" font-size="62.5" text-anchor="middle" stroke="#fff" stroke-width="0.8">1.5</text><text transform="translate(1231.5,1633.8) scale(0.982,1)" font-size="74" text-anchor="middle">Potential V</text><text transform="translate(74.5,701) rotate(-90)" font-size="73" text-anchor="middle">Current (A)</text></g><g><rect x="463" y="153.2" width="573.8" height="199" fill="#fff" stroke="#222" stroke-width="2.4"/><line x1="467" y1="188.3" x2="589.6" y2="188.3" stroke="#4b4b4b" stroke-width="9" stroke-linecap="butt"/><text x="600" y="203.3" font-family="'Liberation Sans', Arial, sans-serif" font-size="52.4">PTh/PEDOT 1.2 V</text><line x1="467" y1="252.2" x2="589.6" y2="252.2" stroke="#ff383a" stroke-width="9" stroke-linecap="butt"/><text x="600" y="267.2" font-family="'Liberation Sans', Arial, sans-serif" font-size="52.4">PTh/PEDOT 1.4 V</text><line x1="467" y1="316" x2="589.6" y2="316" stroke="#026be4" stroke-width="9" stroke-linecap="butt"/><text x="600" y="331" font-family="'Liberation Sans', Arial, sans-serif" font-size="52.4">PTh/PEDOT 1.6 V</text></g></svg>
</body></html>
